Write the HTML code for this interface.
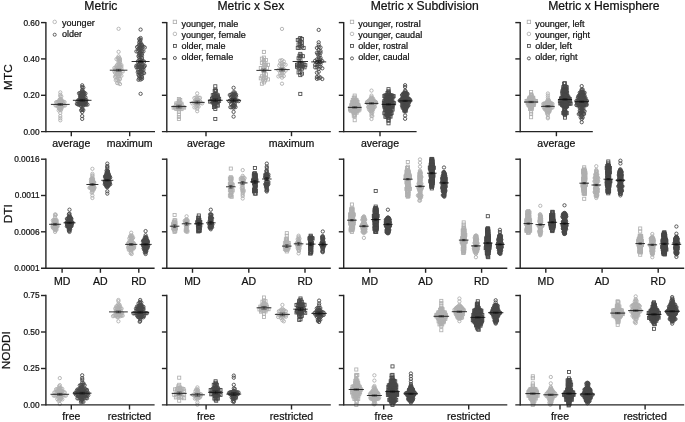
<!DOCTYPE html>
<html lang="en"><head><meta charset="utf-8"><title>Metric figure</title>
<style>html,body{margin:0;padding:0;background:#fff}svg{display:block;will-change:transform;transform:translateZ(0);filter:grayscale(1)}polyline{fill:none;stroke:none}.cL{marker-start:url(#cL);marker-mid:url(#cL);marker-end:url(#cL)}.cD{marker-start:url(#cD);marker-mid:url(#cD);marker-end:url(#cD)}.sL{marker-start:url(#sL);marker-mid:url(#sL);marker-end:url(#sL)}.sD{marker-start:url(#sD);marker-mid:url(#sD);marker-end:url(#sD)}</style></head>
<body>
<svg width="685" height="422" viewBox="0 0 685 422" font-family='"Liberation Sans", Arial, Helvetica, sans-serif'>
<rect width="685" height="422" fill="#fff"/>
<defs>
<marker id="cL" markerUnits="userSpaceOnUse" markerWidth="6" markerHeight="6" refX="3" refY="3" viewBox="0 0 6 6"><circle cx="3" cy="3" r="1.65" fill="none" stroke="#b0b0b0" stroke-width="0.9"/></marker>
<marker id="cD" markerUnits="userSpaceOnUse" markerWidth="6" markerHeight="6" refX="3" refY="3" viewBox="0 0 6 6"><circle cx="3" cy="3" r="1.65" fill="none" stroke="#484848" stroke-width="0.9"/></marker>
<marker id="sL" markerUnits="userSpaceOnUse" markerWidth="6" markerHeight="6" refX="3" refY="3" viewBox="0 0 6 6"><rect x="1.45" y="1.45" width="3.1" height="3.1" fill="none" stroke="#b0b0b0" stroke-width="0.85"/></marker>
<marker id="sD" markerUnits="userSpaceOnUse" markerWidth="6" markerHeight="6" refX="3" refY="3" viewBox="0 0 6 6"><rect x="1.45" y="1.45" width="3.1" height="3.1" fill="none" stroke="#484848" stroke-width="0.85"/></marker>
</defs>
<polyline class="cL" points="60.3,92.4 60.3,94.7 60.3,96.3 61.3,96.4 60.3,99.1 61.3,99.4 59.3,99.9 60.3,100.1 61.3,100.5 60.3,101.2 59.3,101.4 62.4,101.4 61.3,101.7 58.2,101.9 63.4,101.9 57.2,102 64.5,102 56.1,102.3 60.3,102.4 59.3,102.5 61.9,102.7 57.7,102.9 62.9,102.9 60.8,103.3 59.8,103.9 58.7,104.2 60.8,104.6 61.9,104.6 57.7,104.8 59.8,105 62.9,105.1 58.7,105.2 56.6,105.3 64,105.3 65,105.5 55.6,105.5 60.8,105.8 61.9,105.9 57.7,106 59.8,106.1 58.7,106.6 60.8,106.9 59.8,107.2 61.9,107.3 58.7,107.7 60.3,108.5 59.3,108.6 61.3,108.9 59.8,109.5 60.8,110.3 58.7,110.4 60.3,113 60.3,116 60.3,118.2 60.3,120.3"/>
<polyline class="cD" points="82.2,85.3 82.2,87 83.3,87.6 82.2,89.7 82.2,91 83.3,91.7 82.2,92.1 81.1,92.7 83.3,92.8 84.3,93 80.1,93.1 82.2,93.2 79,93.3 85.4,93.5 83.3,94 82.2,94.5 81.1,94.5 84.3,94.6 83.3,95.3 80.1,95.4 82.2,95.8 81.1,96 83.3,96.4 84.3,96.6 80.1,96.7 82.2,97.1 81.1,97.2 85.4,97.3 82.2,98.2 83.3,98.2 81.1,98.5 80.1,98.9 82.2,99.3 83.3,99.4 81.1,99.8 84.3,99.9 79.6,99.9 85.4,99.9 78.5,100 86.4,100.1 82.7,100.4 81.7,100.7 80.6,100.7 83.8,100.8 84.8,100.9 79.6,101.1 78.5,101.2 85.9,101.3 77.4,101.4 82.7,101.6 81.7,101.9 80.6,102 83.8,102.2 84.8,102.2 82.2,103 83.3,103.2 81.1,103.3 80.1,103.3 84.3,103.5 79,103.5 85.4,103.7 86.4,103.7 78,103.7 76.9,103.9 82.2,104.1 83.3,104.3 80.6,104.4 79.6,104.5 84.3,104.6 87.5,104.6 85.9,104.7 78.5,104.8 82.2,105.3 83.3,105.8 81.1,106.1 82.2,108.8 82.2,109.9 83.3,110.1 81.1,110.3 82.2,112 82.2,116.1 82.2,118.9"/>
<polyline class="cL" points="118.6,56.4 119.3,57.8 117.9,57.9 120,59.1 116.5,59.1 118.6,59.3 118.6,60.7 120,61 118.6,62.2 120,62.5 118.6,64 120,64.6 117.2,64.8 121.4,65.1 118.6,65.8 120,66 116.5,66 121.4,66.9 118.6,67.3 117.2,67.4 120,67.5 115.8,67.6 114.4,68 117.9,68.7 121.4,68.7 119.3,68.9 116.5,69.2 115.1,69.4 118.6,70.5 117.2,70.8 120,71 115.8,71.4 121.4,71.5 114.4,71.5 122.8,71.5 118.6,72.2 120,72.7 117.2,72.7 115.1,72.8 118.6,74.4 117.2,74.4 120,74.6 115.8,75.4 117.9,75.7 121.4,75.8 119.3,76.4 116.5,76.8 115.1,76.9 118.6,79 120,79.1 117.2,80.1 115.8,80.2 118.6,80.8 118.6,83.1 117.2,83.1 120,84.1 118.6,28.8 118.6,51.8"/>
<polyline class="cD" points="140.6,38 139.2,39.1 140.6,39.6 139.9,40.9 140.6,42.5 139.2,42.5 140.6,44 139.2,44.8 142,44.9 140.6,45.6 138.5,46.2 142,46.3 143.4,46.7 139.9,46.9 137.1,47.1 144.8,47.5 141.3,47.6 139.9,48.3 138.5,48.5 140.6,49.6 139.2,50.1 140.6,51 142,51.1 137.8,51.1 143.4,51.3 136.4,51.4 140.6,52.5 139.2,53.2 142,53.6 140.6,54.1 139.2,54.9 142,55.3 140.6,55.5 138.5,56.2 140.6,57.2 139.2,57.5 142,57.9 140.6,59.3 139.2,60.3 141.3,60.7 142.7,60.9 137.8,61.4 144.1,61.6 140.6,62.9 139.2,63.8 140.6,64.4 142,64.7 137.8,65 139.2,65.2 143.4,65.6 144.8,65.7 136.4,65.7 140.6,65.9 139.2,66.9 142,67 137.8,67 144.1,67 136.4,67.2 140.6,67.3 142.7,68.3 140.6,69 139.2,69 137.8,69.4 142,69.5 143.4,69.8 140.6,70.8 142,71.6 139.2,72 137.8,72.2 140.6,72.3 142.7,73 144.1,73.1 139.2,73.4 140.6,74.2 142,74.4 138.5,74.8 140.6,76.1 139.2,76.1 142,77.1 140.6,78.1 139.2,78.5 142,78.7 140.6,79.6 138.5,79.8 140.6,29.6 140.6,93.8"/>
<polyline class="sL" points="178.9,99.1 180.2,100 178.9,101.1 178.9,102.6 180.2,102.8 177.6,103.4 176.3,103.5 181.5,103.8 178.9,104.4 177.6,104.8 180.2,105 176.3,105 181.5,105.2 178.9,106.6 177.6,106.6 180.2,106.7 176.3,106.8 181.5,107 182.8,107.1 175,107.3 173.7,107.6 184.1,107.6 178.9,107.9 177.6,108.1 180.2,108.4 176.3,108.9 181.5,109.1 178.9,109.5 178.9,112 178.9,114.5 178.9,117 178.9,119"/>
<polyline class="cL" points="197.2,93.4 197.2,97.3 195.8,97.5 198.6,97.7 200,97.8 194.4,98.1 197.2,99.2 198.6,100.3 196.5,100.4 195.1,100.6 200,100.9 197.9,101.5 196.5,102.1 199.3,102.4 195.1,102.6 193.7,102.6 200.7,102.8 197.9,103.2 192.3,103.4 202.1,103.4 196.5,104.2 197.9,105.1 197.2,106.4 198.6,106.6 195.8,106.9 194.4,107.4 197.2,108.7 197.2,111.2"/>
<polyline class="sD" points="215.3,86.3 215.3,89.8 215.9,90.9 214.7,91 215.3,94.4 216.6,94.6 214,95 212.8,95.2 217.8,95.4 215.3,96 216.6,96.1 214,96.7 217.8,96.9 215.3,97.4 216.6,97.7 214.7,98.6 213.4,98.6 217.8,98.6 212.1,98.8 219.1,98.8 215.3,99.8 214,100.4 216.6,100.6 217.8,100.6 212.8,100.7 219.1,100.9 211.5,100.9 215.3,101.4 210.2,101.6 214,101.8 216.6,102.1 217.8,102.1 212.8,102.5 215.3,103.1 214,103.2 215.3,104.3 214,104.8 216.6,105.2 217.8,105.6 215.3,106.5 214,107.1 215.3,109 215.3,119"/>
<polyline class="cD" points="233.6,87.8 233.6,92.2 234.9,92.6 233.6,93.9 234.9,94.1 232.3,94.2 231.1,94.6 236.1,94.7 229.8,95 233.6,95.2 234.9,95.9 232.3,96 236.1,96.2 233.6,96.8 231.1,96.9 233.6,98.1 232.3,98.4 234.9,98.7 233.6,99.5 231.7,99.6 234.9,100.2 236.1,100.4 230.4,100.5 237.4,100.5 233,100.6 231.7,101 229.2,101.1 238.7,101.1 234.2,101.5 233.6,102.9 232.3,103.2 234.9,103.3 231.1,104.1 233.6,105.2 234.9,105.4 233,106.4 234.2,106.6 235.5,107.1 231.7,107.2 230.4,107.2 233.6,107.8 233.6,111.9 233.6,116.6"/>
<polyline class="sL" points="263.9,57.6 261.9,58.7 263.9,59.9 265.9,60 263.9,62.1 261.9,63 263.9,64.5 265.9,64.6 268,64.8 264.9,66.5 262.9,67.9 260.8,68 267,68.1 263.9,70.7 263.9,73.5 265.9,74.4 263.9,75.5 261.9,76.3 263.9,77.7 265.9,78 260.8,78.3 268,79.4 262.9,79.5 264.9,80.5 263.9,82.4 261.9,83.7 263.9,51.9"/>
<polyline class="cL" points="282,60.2 280.2,60.6 283.8,61.4 282,63.1 280.2,63.8 283.8,64.2 285.6,64.7 282,65.2 279.3,65.6 282,67 282,69.1 283.8,69.1 280.2,69.5 278.4,70 285.6,70.6 282.9,70.7 281.1,71.1 283.8,72.4 282,72.8 280.2,73 282,75.4 280.2,75.6 283.8,76 278.4,76.4 282,77.6 282,83.7 282,28.9"/>
<polyline class="sD" points="300.3,38 302,39 299.5,39.6 297.8,40 300.3,41.8 302,42.8 300.3,44 298.6,44.4 300.3,46.3 302,46.5 299.5,47.8 297.8,47.9 303.6,47.9 300.3,53.9 301.1,55.6 299.5,55.8 302.8,56.2 300.3,57.5 298.6,58.3 300.3,63 302,64.1 298.6,64.2 303.6,64.4 300.3,64.7 297,64.8 305.3,65.2 298.6,66.1 301.1,66.3 302.8,66.4 297,66.7 304.5,67.3 300.3,67.7 298.6,68.2 302,68.6 300.3,72.3 298.6,72.4 302,73.6 300.3,75.1 300.3,93.9"/>
<polyline class="cD" points="318.7,42.3 318.7,44.7 318.7,47 320.5,47.5 316.9,47.9 318.7,50 320.5,51 318.7,52.8 316.9,52.8 320.5,52.9 317.8,54.4 319.6,55.1 318.7,57.1 320.5,57.9 318.7,59 316.9,59.5 320.5,59.7 315.1,60.8 318.7,61.1 322.3,61.1 320.5,61.9 316.9,62.1 318.7,64 320.5,64.2 316.9,64.7 315.1,64.8 318.7,66.5 320.5,66.8 316.9,67.3 315.1,67.4 322.3,68.3 318.7,68.8 318.7,71.8 316.9,72.7 318.7,76.3 316.9,77 320.5,77.6 318.7,78.3 316.9,78.8 322.3,79 318.7,29.9"/>
<polyline class="sL" points="354.7,95.6 354.7,97.5 353.8,97.8 354.7,99.6 355.6,99.7 353.8,99.9 352.8,100.1 356.6,100.3 354.7,100.6 355.6,100.7 353.8,101.1 356.6,101.4 355.2,101.5 352.8,101.8 354.2,102 357.5,102.1 356.1,102.2 351.9,102.3 355.2,102.7 354.2,103.1 356.1,103.4 355.2,103.6 353.3,103.9 357,104 354.2,104.1 352.4,104.3 355.2,104.6 356.1,104.7 353.3,104.9 357.5,104.9 351.4,105 358.4,105 354.2,105.2 352.4,105.3 355.2,105.6 356.1,105.7 357,105.8 353.3,105.8 358,106 351.4,106.1 354.2,106.2 352.4,106.3 358.9,106.4 355.2,106.6 356.1,106.7 353.3,106.8 354.7,107.5 355.6,107.6 353.8,107.6 352.8,107.7 356.6,107.8 351.9,107.8 357.5,107.8 358.4,107.8 350.9,108 350,108.2 359.4,108.3 354.7,108.6 353.8,108.7 355.6,108.8 356.6,108.8 352.8,109 357.5,109 351.9,109.1 350.9,109.2 358.4,109.2 359.4,109.5 350,109.5 354.7,109.8 353.8,110 355.6,110 356.6,110.1 352.8,110.3 351.9,110.3 357.5,110.4 358.4,110.5 350.9,110.7 354.7,110.9 353.8,110.9 355.6,111 356.6,111.3 352.8,111.5 354.7,111.9 355.6,112 353.8,112.2 356.6,112.7 354.7,113.2 353.8,113.4 354.7,115 353.8,115.7 354.7,116.3 354.7,120.2"/>
<polyline class="cL" points="371.5,95.6 371.5,97 371.5,98.1 370.7,98.3 372.3,98.5 373.1,98.6 371.5,99.3 370.7,99.5 372.3,100 373.1,100.1 371.5,100.2 370.3,100.3 369.4,100.4 374,100.7 368.6,100.7 371.9,101 371.1,101.1 370.3,101.3 372.7,101.4 369.4,101.5 373.6,101.6 368.6,101.6 374.4,101.6 375.2,101.6 367.8,101.7 371.5,101.9 370.7,102 367,102 376,102.1 372.3,102.2 369.9,102.3 373.1,102.3 369,102.4 374,102.5 374.8,102.5 368.2,102.6 371.5,103 370.7,103 372.3,103.1 369.9,103.1 367.4,103.1 373.1,103.2 369,103.2 374.4,103.3 375.2,103.3 376,103.3 368.2,103.6 371.1,103.8 371.9,103.9 372.7,104 370.3,104 373.6,104 369.4,104.2 368.6,104.5 374.4,104.6 371.5,104.9 370.7,104.9 372.3,105.1 373.1,105.4 369.9,105.5 371.5,106.2 372.3,106.2 370.7,106.5 373.1,106.5 369.9,106.5 374,106.7 369,106.9 374.8,106.9 371.9,107 368.2,107.2 371.1,107.3 372.7,107.7 371.9,107.9 371.1,108.3 370.3,108.4 372.7,108.6 371.9,109 371.1,109.2 369.9,109.2 373.1,109.3 369,109.5 371.9,109.8 371.1,110.3 372.7,110.4 371.9,110.9 370.3,111 371.1,111.2 371.5,112.6 372.3,112.6 371.5,114.3 371.5,116 372.3,116 371.5,90.6 371.5,119"/>
<polyline class="sD" points="388.5,89.2 388.5,91.3 388.5,92.5 387.5,93.1 389,93.4 388.5,94.4 389.5,95 387.5,95.2 390.5,95.3 386.5,95.3 385.4,95.4 391.6,95.4 388.5,95.5 389.5,96 384.4,96.1 392.6,96.1 393.6,96.2 387.5,96.3 386.5,96.5 388.5,96.8 390.5,96.8 391.6,96.9 385.4,97 389.5,97.4 387.5,97.4 392.6,97.4 388.5,97.8 390.5,97.9 387,98.4 389.5,98.6 386,98.7 388.5,99.2 387.5,99.4 390,99.5 386.5,99.6 391,100 389,100.1 385.4,100.2 392.1,100.3 388,100.4 387,100.6 390,100.6 384.4,101 391,101 389,101.2 386,101.2 388,101.4 390,101.9 387,102 391,102.1 388.5,102.3 386,102.5 392.1,102.6 384.9,102.6 393.1,102.6 383.9,102.7 389.5,102.9 387.5,103.1 390.5,103.2 394.1,103.3 388.5,103.5 386.5,103.6 385.4,103.6 391.6,103.7 389.5,104 387.5,104.1 390.5,104.4 388.5,104.6 386.5,104.6 385.4,104.8 391.6,105 389.5,105 384.4,105.1 392.6,105.1 387.5,105.3 390.5,105.5 388.5,105.8 386.5,106 389.5,106.1 385.4,106.2 391.6,106.2 392.6,106.3 387.5,106.4 384.4,106.6 390.5,106.8 388.5,107.1 386.5,107.1 389.5,107.3 391.6,107.3 387.5,107.6 385.4,107.6 388.5,108.1 389.5,108.5 387,108.5 390.5,108.6 386,108.8 391.6,109 388.5,109.3 384.9,109.4 387.5,109.5 392.6,109.5 389.5,109.7 388.5,110.7 387.5,111 389.5,111.2 390.5,111.2 386.5,111.3 388.5,112.2 387.5,112.5 389.5,112.6 390.5,112.8 386.5,112.9 385.4,113 391.6,113.1 384.4,113.2 388.5,113.2 387.5,113.5 389.5,114 390.5,114.1 388.5,114.2 387.5,114.9 386.5,115 388.5,115.8 387.5,116.1 389.5,116.2 390.5,116.6 386.5,116.7 385.4,116.7 388.5,117.7 388.5,119.6 388.5,120.7 388.5,123.3"/>
<polyline class="cD" points="405.1,90.6 405.5,91.3 405.1,92.5 405.9,93.2 404.7,93.2 404,93.2 406.6,93.3 403.2,93.5 407.4,93.7 405.1,93.9 405.9,94.1 404.3,94.4 403.6,94.4 406.6,94.5 407.4,94.6 402.8,94.6 405.1,94.7 405.9,95 402,95.1 404.3,95.3 405.1,95.5 403.6,95.6 405.9,95.9 404.3,96.1 405.1,96.4 405.9,96.7 403.6,96.7 404.3,97 406.6,97 407.4,97.1 402.8,97.1 405.1,97.6 405.9,97.7 404.3,97.9 406.6,97.9 403.6,98.2 402.8,98.3 405.1,98.5 405.9,98.6 404.3,98.6 406.6,98.9 407.4,98.9 408.2,98.9 402,98.9 408.9,98.9 403.6,99.2 402.8,99.2 405.5,99.2 401.3,99.3 409.7,99.3 405.1,99.9 404.3,100 405.9,100.1 403.6,100.1 406.6,100.1 407.4,100.2 402.8,100.2 402,100.2 408.2,100.3 408.9,100.3 401.3,100.3 409.7,100.4 400.5,100.4 410.5,100.6 399.7,100.6 405.1,100.8 404.3,100.9 405.9,101 406.6,101 403.6,101.1 407.4,101.1 402.8,101.1 408.2,101.3 402,101.3 401.3,101.4 408.9,101.5 405.1,101.6 404.3,101.9 405.9,102.2 403.6,102.4 406.6,102.4 405.1,102.5 407.4,102.5 402.8,102.6 402,102.6 404.3,102.8 408.2,102.8 408.9,102.8 405.9,103 405.1,103.3 404.3,103.6 405.9,103.8 406.6,104 405.1,104.3 404.3,104.8 405.5,105 406.2,105.2 403.6,105.3 407,105.3 402.8,105.3 407.8,105.3 402,105.4 408.5,105.4 404.7,105.6 405.5,105.9 404,106 406.2,106.1 407,106.1 403.2,106.1 407.8,106.1 404.7,106.5 405.5,106.7 402.4,106.7 404,106.9 406.2,106.9 405.1,107.5 405.9,107.8 404.3,107.8 403.6,108.1 406.6,108.2 402.8,108.2 405.1,108.8 405.9,108.8 404.3,108.9 405.5,109.5 404.7,109.7 405.5,110.3 404.3,110.4 405.1,111 404.3,111.4 405.9,111.4 405.1,115.5 405.1,85.2 405.1,87 405.1,118.8"/>
<polyline class="sL" points="531.1,92 531.1,94.3 531.1,95.3 531.8,95.5 531.1,96.3 531.1,97.2 530.4,97.3 531.8,97.5 532.5,97.7 529.7,97.7 533.2,97.8 531.1,98 531.8,98.4 530.4,98.4 532.5,98.5 529.7,98.5 529,98.6 533.2,98.6 531.1,98.9 530.4,99.1 531.8,99.2 531.1,99.7 530.1,99.8 532.5,99.8 531.8,100 529.4,100.2 533.2,100.2 531.1,100.4 530.4,100.5 532.1,100.6 528.7,100.7 533.9,100.7 528,100.8 529.7,100.9 532.8,100.9 534.6,100.9 527.3,100.9 535.3,101 526.6,101 531.4,101 536,101.1 530.8,101.2 532.1,101.4 530.1,101.5 531.1,101.8 532.8,102 530.4,102.2 531.8,102.2 529.7,102.4 529,102.4 533.5,102.4 531.1,102.6 532.5,102.6 528.3,102.7 534.2,102.8 531.8,103 530.4,103 529.4,103 533.2,103.1 527.6,103.1 531.1,103.8 530.4,103.9 531.8,104.2 532.5,104.2 529.7,104.3 529,104.4 531.1,104.6 530.4,104.7 533.2,104.7 528.3,104.7 533.9,104.8 531.8,104.9 532.5,105.1 531.1,105.3 530.4,105.4 529.7,105.5 529,105.5 531.8,105.7 531.1,106.1 530.4,106.2 531.4,106.7 532.1,106.8 530.8,106.9 530.1,107.2 531.4,107.4 530.8,107.7 531.4,108.2 530.8,108.4 531.8,108.8 530.1,108.9 531.1,112.4 531.1,114 531.1,117.2"/>
<polyline class="cL" points="547.9,95.5 547.9,97.5 547.9,99.4 548.7,99.9 547.9,100.8 548.7,101.2 547.1,101.4 549.4,101.5 547.9,102.1 547.1,102.4 548.7,102.5 546.4,102.8 547.9,102.9 549.4,103 550.2,103 547.1,103.3 548.7,103.4 545.6,103.4 544.8,103.4 551,103.5 551.7,103.5 546.4,103.6 547.9,103.7 549.8,103.7 544.1,103.8 543.3,103.8 552.5,103.9 549,104 547.1,104.1 545.6,104.2 550.6,104.3 544.8,104.3 548.3,104.4 546.4,104.4 549.8,104.5 551.3,104.6 547.5,104.8 548.3,105.2 547.1,105.5 549,105.5 546.4,105.6 549.8,105.6 545.6,105.7 547.9,106.2 548.7,106.2 547.1,106.3 546.4,106.4 549.4,106.7 547.9,107 548.7,107 550.2,107 547.1,107.1 546,107.1 545.2,107.2 551,107.3 544.5,107.3 551.7,107.4 549.4,107.5 543.7,107.5 552.5,107.6 548.3,107.7 547.5,107.9 546.8,108 546,108 549,108.3 549.8,108.4 545.2,108.4 547.9,108.6 547.1,108.7 546.4,108.7 548.7,109.1 549.4,109.2 545.6,109.2 550.2,109.3 544.8,109.3 547.9,110.2 548.7,110.6 547.1,110.7 549.4,110.8 547.9,111 546.4,111.1 547.1,111.5 548.7,111.6 549.4,111.7 547.9,111.8 547.1,112.3 548.7,112.4 547.9,113.5 547.1,113.6 547.9,115.1 547.9,117.4 547.9,118.3 547.9,93.5"/>
<polyline class="sD" points="565,83.2 564.1,83.6 565,86.6 564.1,86.8 565.9,86.8 563.3,87.2 566.7,87.3 565,87.5 565,88.9 565.9,88.9 564.1,89.4 563.3,89.4 565,89.9 564.1,90.4 565.9,90.6 566.7,90.7 563.3,90.8 565,90.9 564.1,91.3 562.4,91.4 565.9,91.5 565,91.8 563.7,92.2 564.6,92.6 565.4,92.6 566.3,92.7 563.3,93 567.1,93.2 562.4,93.3 565,93.6 564.1,93.8 565,94.5 564.1,94.8 565.9,94.9 563.3,95.2 565,95.6 565.9,95.8 564.1,95.9 566.7,95.9 563.3,96.2 567.6,96.4 565,96.9 565.9,97 564.1,97.2 563.3,97.2 566.7,97.3 562.4,97.4 567.6,97.6 568.4,97.6 565.4,97.7 561.6,97.9 564.6,98 563.7,98 566.3,98 562.9,98.4 567.1,98.4 568,98.4 568.9,98.6 565.4,98.6 562,98.7 561.1,98.7 564.1,98.8 566.3,99 569.7,99.1 563.3,99.2 567.6,99.2 565,99.6 564.1,99.8 565.9,99.9 566.7,100.3 563.3,100.3 567.6,100.4 562.4,100.4 565,100.5 568.4,100.5 561.6,100.6 564.1,100.7 565.9,100.9 569.3,101 560.7,101 559.9,101.1 570.1,101.1 565,101.4 565.9,102 564.6,102.2 565.4,102.8 566.3,102.9 563.7,102.9 567.1,102.9 562.9,103 564.6,103.1 568,103.3 562,103.3 568.9,103.4 561.1,103.4 560.3,103.4 569.7,103.6 570.6,103.6 565.4,103.7 564.6,104 566.3,104.1 563.7,104.1 562.9,104.4 565.4,104.6 567.1,104.7 562,104.8 564.6,105 566.3,105.1 563.7,105.3 562.9,105.4 565.4,105.6 564.6,105.9 566.3,106 563.7,106.2 567.1,106.2 565,107.1 565.9,107.2 565,108.3 564.1,108.9 565,109.8 565,110.7 565,111.8 564.1,112.3 565.9,112.4 565,112.9 563.3,112.9 566.7,113.1 564.1,113.3 565.4,113.7 564.6,114.2 565,115.2 565,117.6"/>
<polyline class="cD" points="581.7,86.1 581.7,89.4 582.7,89.5 581.7,90.4 581.7,91.7 582.7,91.8 580.7,92.1 583.6,92.4 579.8,92.7 584.6,92.7 581.7,92.8 582.7,93.2 580.7,93.3 583.6,93.6 581.7,93.8 582.7,94.4 581.7,94.9 580.7,94.9 583.6,95 579.8,95.1 582.7,95.6 584.6,95.6 578.8,95.7 581.7,95.9 580.7,96 583.6,96.2 579.8,96.3 578.3,96.6 582.7,96.6 581.7,96.9 580.7,97 583.6,97.2 579.8,97.3 578.8,97.4 584.6,97.6 582.7,97.7 581.7,98 580.7,98 577.8,98.1 585.6,98.2 583.6,98.2 579.8,98.5 584.6,98.7 582.7,98.8 581.2,98.9 583.6,99.2 580.2,99.3 579.3,99.5 585.1,99.6 581.7,99.8 582.7,100 584.1,100.1 580.7,100.2 578.3,100.3 579.8,100.4 581.7,100.8 585.1,100.8 583.2,100.9 586.1,100.9 577.3,100.9 587,100.9 576.4,101 578.8,101.1 580.7,101.2 584.1,101.3 579.8,101.6 582.2,101.8 583.2,101.9 585.1,101.9 577.8,101.9 586.1,102 581.2,102 580.2,102.5 579.3,102.6 584.1,102.6 576.9,102.7 581.7,102.9 582.7,103 578.3,103.2 580.7,103.4 579.8,103.5 583.6,103.5 584.6,103.6 585.6,103.6 577.3,103.7 581.7,103.9 582.7,104 578.8,104.1 586.5,104.1 580.7,104.6 583.6,104.6 579.8,104.7 584.6,104.8 585.6,104.8 582.2,104.9 578.3,105 577.3,105.1 586.5,105.1 576.4,105.1 581.2,105.4 580.2,105.7 582.7,105.8 583.6,105.8 581.7,106.5 579.3,106.5 581.7,107.4 582.7,107.6 580.7,107.7 583.6,107.7 579.8,108.1 581.7,108.9 581.7,109.9 580.7,110.4 582.7,110.4 583.6,110.7 579.8,110.8 581.7,111 584.6,111.3 581.7,112.4 580.7,112.5 582.7,112.7 581.7,113.4 580.7,113.5 583.2,113.6 579.8,113.6 584.1,114 578.8,114.1 581.7,115.5 581.7,117 580.7,117.4 582.7,117.5 581.7,119 581.7,122.2"/>
<polyline class="cL" points="55.1,214.4 55.8,214.8 55.1,215.5 55.1,217.2 55.1,219.8 54.4,219.9 55.8,220 53.7,220 56.5,220 52.9,220.4 55.1,220.8 55.8,220.8 54.4,221 56.5,221.1 55.1,221.5 55.8,221.6 54.4,221.7 53.7,221.8 56.5,222.2 55.1,222.2 55.8,222.4 54.4,222.6 55.1,223 55.8,223.6 54.4,223.6 53.7,223.7 55.1,223.8 56.5,223.8 52.9,224 57.3,224.1 55.8,224.3 54.4,224.4 55.1,224.6 56.5,224.7 53.7,224.7 52.9,224.9 57.3,225 55.5,225.2 54.7,225.8 55.5,226.1 54,226.2 56.2,226.2 56.9,226.2 53.3,226.3 52.6,226.4 57.6,226.4 55.1,226.9 54.4,227.4 55.8,227.4 53.7,227.6 56.5,227.6 55.1,227.8 52.9,227.8 55.1,228.8 55.8,229.4 54.4,229.4 55.1,229.6 56.5,229.7 55.5,230.3 55.1,231.9"/>
<polyline class="cD" points="69.5,213.7 68.9,214.2 69.5,215.5 69.5,216.6 70.1,216.7 68.9,216.8 69.5,217.5 68.9,217.6 70.1,217.8 70.8,218 69.5,218.3 68.9,218.4 68.2,218.5 70.1,218.6 70.8,218.7 67.6,218.7 71.4,218.8 66.9,218.9 69.5,219.1 68.9,219.3 70.1,219.4 69.5,219.8 68.9,220.3 70.1,220.3 68.2,220.3 69.5,220.4 70.8,220.6 69.2,221 69.8,221.2 70.5,221.4 68.5,221.5 71.1,221.7 69.5,221.8 70.1,222 67.9,222 68.9,222.1 71.7,222.1 67.3,222.2 70.8,222.3 72.4,222.3 66.6,222.4 69.5,222.6 70.1,222.6 68.5,222.6 67.9,222.7 70.8,223 69.5,223.3 68.9,223.4 70.1,223.5 68.2,223.6 70.8,223.6 71.4,223.7 67.6,223.7 72.1,223.7 66.9,223.9 69.5,224.3 70.1,224.3 68.9,224.4 68.2,224.5 70.8,224.6 69.5,224.9 68.9,225.2 70.1,225.2 68.2,225.3 70.8,225.3 67.6,225.5 71.4,225.5 69.5,225.7 68.9,225.9 70.1,225.9 70.8,225.9 68.2,226.1 67.6,226.1 71.4,226.2 66.9,226.3 69.5,226.5 70.5,226.5 68.9,226.7 68.2,226.9 69.5,227.4 68.9,227.5 70.1,227.9 69.5,228.3 68.9,228.3 69.5,229.2 70.1,229.3 68.9,229.6 69.5,230.7 68.9,230.8 69.5,231.9 69.5,209.7"/>
<polyline class="cL" points="92.4,173.8 92.4,175.3 92.4,176.3 92.4,178.1 91.7,178.4 92.4,178.9 93.1,179 91.7,179.4 91,179.5 92.4,180.2 91.7,180.6 92.4,181 93.1,181.2 91.7,181.3 92.4,181.7 93.5,181.8 91,181.9 91.7,182.2 94.2,182.3 92.4,182.6 93.1,182.6 91.7,183 93.8,183.1 92.8,183.3 92,183.8 92.8,184.1 91.3,184.1 93.5,184.2 90.6,184.4 94.2,184.4 92.4,184.8 91.7,184.9 92.4,185.6 91.7,185.7 93.1,185.9 93.8,185.9 92.4,186.6 93.1,186.7 91.7,186.9 91,187.2 93.8,187.2 92.4,187.4 93.1,187.4 90.2,187.6 94.6,187.6 91.7,187.8 89.5,187.8 91,187.9 92.4,188.2 93.1,188.3 93.8,188.4 92.4,188.9 91.7,189.3 93.1,189.3 93.8,189.6 92.4,189.8 92.4,190.8 92.4,192 91.7,192.6 92.4,195.5 92.4,168.8 92.4,198"/>
<polyline class="cD" points="107.3,166 107.3,167.1 107.3,168.4 107.3,170.6 106.6,170.7 108,171.1 107.3,171.7 108,172.2 107.3,172.5 106.6,172.9 107.3,173.3 108,173.4 106.6,173.7 108.7,173.9 107.3,174.2 108,174.5 106.9,174.9 106.2,174.9 108.7,175 107.3,175.6 106.6,175.8 108,175.9 108.7,175.9 105.9,176.1 105.1,176.2 109.5,176.2 107.3,176.7 108,176.8 106.6,177.1 105.9,177.1 108.7,177.1 109.5,177.2 105.1,177.3 107.7,177.4 110.2,177.5 106.9,178 107.7,178.1 106.2,178.3 108.4,178.4 109.1,178.4 107.3,178.8 106.6,179 108,179.1 105.9,179.4 107.3,179.9 106.6,180.3 107.3,180.7 108,180.8 106.2,181 108.7,181.1 105.5,181.3 109.5,181.3 104.8,181.3 107.3,181.7 108,181.8 106.6,182 108.7,182.1 105.9,182.2 105.1,182.2 109.5,182.3 107.3,182.6 108,182.7 106.6,182.9 105.9,182.9 108.7,183.1 109.5,183.1 107.3,183.4 108,183.4 106.2,183.6 108.7,183.9 105.5,183.9 109.5,183.9 106.9,184 107.7,184.1 104.8,184.2 110.2,184.3 108.4,184.6 107.3,184.8 106.6,184.8 105.9,185.1 108,185.3 108.7,185.3 107.3,185.6 106.6,186 108,186.2 107.3,186.5 106.6,186.8 107.3,187.3 107.3,191.3 107.3,193.6 107.3,163.6"/>
<polyline class="cL" points="131.2,232.7 131.2,235.5 132.2,235.9 130.2,236.1 131.2,237 132.2,237.5 130.2,237.6 133.1,237.8 131.2,238.4 129.3,238.4 132.2,238.7 131.2,239.7 131.2,240.8 130.2,241.5 132.2,241.5 129.3,241.5 131.2,241.8 130.2,242.5 131.7,242.6 132.6,242.7 129.3,242.9 133.6,243.1 128.3,243.1 131.2,243.5 132.2,243.6 130.2,243.9 129.3,243.9 133.1,243.9 134.1,244 128.3,244.1 131.2,244.5 132.2,244.7 130.2,244.9 129.3,245.1 133.1,245.2 134.1,245.3 131.2,245.7 132.2,245.9 130.2,246.3 129.3,246.3 133.1,246.5 128.3,246.6 134.1,246.6 131.2,247.1 132.2,247.2 130.2,247.3 129.3,247.4 133.1,247.5 128.3,247.8 134.1,247.9 131.2,248.2 131.7,249.1 130.7,249.5 129.8,249.6 132.6,249.6 128.8,249.9 131.2,250.3 131.2,252.4 130.7,253.3 131.7,254"/>
<polyline class="cD" points="145.6,235.3 145.6,237.2 146.3,237.3 144.9,237.6 145.6,237.8 146.3,238.1 145.6,239 144.9,239.6 145.9,239.6 146.6,239.7 144.3,239.7 147.2,240 143.6,240.1 145.6,240.5 146.3,240.6 144.9,240.6 146.9,240.7 144.3,240.9 143.6,240.9 147.6,241.1 145.9,241.1 145.3,241.2 143,241.3 146.6,241.3 144.6,241.6 144,241.6 147.2,241.7 147.9,241.8 145.6,241.8 146.3,242 144.9,242.2 146.9,242.4 144.3,242.4 145.6,242.7 146.3,242.7 147.6,242.7 144.9,242.9 144,243 145.9,243.2 145.6,243.8 144.9,243.9 146.3,244 146.9,244.1 144.3,244.3 143.6,244.3 147.6,244.4 143,244.5 145.6,244.5 146.3,244.9 144.9,245.1 144.3,245.1 146.9,245.1 145.6,245.2 143.6,245.2 147.6,245.4 148.2,245.5 146.3,245.6 143,245.6 144.6,245.6 145.6,246.2 146.3,246.2 144.9,246.2 144.3,246.3 146.9,246.5 147.6,246.5 145.6,246.9 144.9,247.1 146.3,247.1 144.3,247.4 146.9,247.4 145.6,247.6 147.6,247.7 144.9,247.9 146.3,248.1 144.3,248.1 145.6,248.2 146.9,248.3 143.6,248.4 144.9,248.6 145.6,249.4 146.3,249.7 145.6,250 144.9,250.1 144.3,250.1 145.6,250.8 146.3,251.2 145.6,251.6 145.6,252.4 144.9,252.4 145.6,254 145.6,231.1"/>
<polyline class="sL" points="174.6,220.2 175.3,220.5 174.6,221.7 173.9,221.8 174.6,222.8 175.3,222.9 173.9,223.2 174.6,223.7 175.3,223.8 173.2,223.8 174.6,224.7 175.3,224.8 173.9,224.9 173.2,225.1 174.6,225.5 174.6,226.5 173.9,226.7 174.6,227.7 173.9,227.8 175.3,228.1 173.2,228.2 176,228.2 174.6,228.3 173.9,228.5 174.6,229.2 175.3,229.2 173.9,229.4 174.6,230.6 175.3,230.8 174.6,231.9 174.6,215"/>
<polyline class="cL" points="186.6,216.3 186.6,219.3 186.2,220 187,220.3 185.5,220.4 187.7,220.5 186.2,220.8 184.7,220.8 186.6,221.6 187.4,222.1 185.8,222.2 186.6,222.5 185.1,222.5 187.4,223 186.2,223.2 186.6,224.3 186.6,225.2 187.4,225.2 185.8,225.8 186.6,226.7 186.2,227.4 187,227.6 186.6,229 185.8,229.1 186.6,230.5 185.8,230.5 187.4,230.5 186.6,231.3 185.8,231.4 187.4,231.9"/>
<polyline class="sD" points="198.8,215.5 198.8,217.7 198.2,217.8 198.8,219.4 199.4,219.9 198.8,220.2 198.2,220.3 198.8,221 198.5,221.6 199.1,221.7 197.9,221.8 199.7,222.1 200.3,222.1 197.3,222.2 198.8,222.3 198.2,222.4 199.4,222.6 200,222.7 197.6,222.8 198.8,223 198.2,223.2 199.4,223.3 200,223.4 198.8,224.3 198.5,224.9 199.1,225 199.7,225 197.9,225.1 200.3,225.4 198.8,225.5 198.2,226 199.1,226.1 198.8,226.9 198.2,227.3 199.4,227.4 198.8,227.8 200,227.8 198.8,228.5 198.8,229.8 199.4,230 198.5,230.4 199.1,230.5 199.7,230.8 198.8,231.1 198.2,231.4"/>
<polyline class="cD" points="210.8,214.4 210.1,214.4 211.5,214.7 210.8,215.2 210.8,216.3 210.8,216.9 210.1,217.4 210.8,217.8 211.5,218 210.1,218 212.1,218.1 210.8,218.9 210.1,219.4 210.8,219.7 211.5,220 210.5,220.2 210.8,220.9 211.5,221.2 210.1,221.2 209.5,221.4 210.8,222.4 211.5,222.7 210.1,222.7 210.8,223.3 211.8,223.3 211.1,223.8 210.5,223.9 211.8,224 209.8,224.3 209.2,224.3 210.8,224.5 212.4,224.5 211.5,224.7 210.1,225 210.8,225.3 211.5,225.7 210.8,226.2 210.8,227 210.1,227.1 211.5,227.1 209.5,227.2 212.1,227.2 210.8,227.8 210.1,228.2 210.8,229.3 210.8,209.7"/>
<polyline class="sL" points="230.8,177.2 230.8,178.3 231.7,178.5 229.9,178.6 230.8,179.5 230.8,181.5 231.3,182.4 230.8,183.3 229.9,183.7 231.7,184 230.8,184.3 229.9,184.7 232.7,184.8 231.7,185.1 230.8,185.5 230.8,187.5 231.7,187.6 230.8,188.5 230.8,189.7 229.9,189.9 231.7,190 232.7,190.4 230.8,191.1 230.8,192.2 231.7,192.4 230.8,193.4 230.8,195 229.9,195.6 230.8,196.3 231.7,196.7 230.8,168.6"/>
<polyline class="cL" points="242.7,175.9 242.7,177.6 243.6,177.7 241.8,178 244.6,178.2 240.8,178.3 242.7,179.1 241.8,179.5 243.6,179.8 240.8,179.9 242.7,180.5 243.6,180.8 242.7,182 243.6,182.1 242.2,182.8 243.2,183.5 242.2,183.8 242.7,184.7 241.8,185.1 242.7,186.7 242.7,187.8 241.8,188.1 242.7,189.4 243.6,190.2 242.2,190.3 242.7,191.5 243.6,191.5 242.7,193 242.7,194.5 242.7,196 242.7,170.1 242.7,198.5"/>
<polyline class="sD" points="254.9,173.2 254.1,173.7 254.9,174.4 255.7,174.8 254.5,175.1 253.8,175.5 254.9,175.8 255.7,175.9 254.9,176.8 255.7,177.4 254.9,179 255.7,179.1 254.1,179.3 253.4,179.7 254.9,179.8 255.7,180.1 254.5,180.5 253.8,180.5 256.4,180.5 253,180.8 255.3,181.1 254.5,181.4 253.8,181.5 255.3,181.9 256,182 254.9,182.8 254.1,183.2 254.9,183.7 255.3,184.4 254.5,184.7 255.7,185.1 254.9,186.1 255.7,186.3 254.9,187.5 255.3,188.2 254.9,188.9 254.1,189.5 254.9,189.7 254.1,190.3 255.3,190.4 256,190.9 254.9,191.1 254.1,191.4 254.9,193.5 255.7,193.6 254.9,168"/>
<polyline class="cD" points="266.8,166.5 266.8,167.9 266.8,170.3 266.4,171 266.8,172 266.8,174 266,174.3 267.6,174.4 265.2,174.5 268.4,174.5 266.8,174.8 266,175.1 266.8,176.1 267.6,176.1 266,176.2 265.2,176.5 268.4,176.6 266.8,177 266,177.1 267.6,177.3 265.2,177.4 266.8,178.2 266.4,179 266.8,181.5 266,181.6 267.6,181.8 268.4,182 266.8,182.4 266.8,183.8 266,183.9 267.6,184.1 268.4,184.1 265.2,184.3 266.8,184.6 266,184.8 267.6,185.2 266.8,185.8 266,185.9 266.8,186.9 266,187.2 266.8,188.1 266.8,189.3 267.2,190 266.4,190.6 266.8,191.5 266.8,163.6"/>
<polyline class="sL" points="286.8,238.5 285.9,239.3 286.8,239.9 286.8,241.5 285.9,241.5 286.8,242.6 287.7,242.8 285.9,242.8 288.7,243 284.9,243.2 286.8,244.2 285.9,244.2 287.7,244.7 288.7,245 286.8,246.1 287.7,246.2 285.9,246.4 284.9,246.5 286.8,247 287.7,247.2 285.9,247.4 288.7,247.5 286.8,248 285.9,248.4 287.7,248.5 284.9,248.9 286.8,249.4 287.7,249.5 285.9,250 286.8,251.4 286.8,233.2 286.8,235.8"/>
<polyline class="cL" points="298.6,237 298.6,238.5 299.5,238.6 297.7,239.2 298.6,240 299,240.8 298.2,241.3 298.6,242.1 299.5,242.4 297.7,242.4 296.9,242.9 298.6,243.1 299.9,243.2 297.7,243.4 296.9,243.8 298.6,244.2 299.5,244.4 297.7,244.6 300.3,244.8 296.9,244.8 298.6,245.2 298.6,246.1 299.5,246.5 297.7,246.7 298.6,248 297.7,248.2 299.5,248.5 298.6,249.3 298.6,250.2 299,251 298.6,235.7 298.6,253.4"/>
<polyline class="sD" points="310.7,235.7 310.7,236.5 311,237.2 310.7,238 310.1,238 311.3,238 312,238.1 309.4,238.5 312.6,238.5 310.7,238.6 311,239.2 310.4,239.3 310.7,239.8 310.1,239.8 311.3,240.2 310.7,240.5 310.1,240.8 310.7,241.4 310.7,242.5 310.1,242.7 311.3,243 312,243 310.7,243.3 310.7,244.2 311.3,244.3 310.1,244.6 310.7,244.9 311.3,245.2 310.1,245.3 310.7,246.3 311.3,246.5 310.1,246.7 310.7,247.5 311.3,247.5 310.1,247.6 310.7,248.4 310.1,248.9 310.7,249.2 310.7,250.2 311.3,250.3 310.7,251.8 311.3,251.8 310.7,252.5 310.7,253.4 310.1,253.4"/>
<polyline class="cD" points="322.8,236.2 322.2,236.6 322.8,237.2 322.2,237.5 322.8,238.1 323.4,238.5 322.8,238.9 322.2,239.2 322.8,239.6 322.8,240.5 322.8,241.5 323.4,241.7 322.2,241.7 322.8,242.3 323.4,242.3 322.2,242.5 321.6,242.7 322.8,243.1 322.2,243.1 323.4,243.2 321.6,243.5 322.8,243.7 322.8,244.3 323.4,244.7 322.2,244.8 324,244.8 322.8,244.9 321.6,245 321.1,245 324.5,245.1 323.4,245.3 322.5,245.5 323.1,245.8 322.8,246.3 323.4,246.5 322.2,246.6 322.8,247.2 323.4,247.5 322.2,247.6 322.8,247.8 322.8,249 322.8,249.7 322.8,251.2 322.2,251.4 322.8,252.2 322.8,231.5"/>
<polyline class="sL" points="351.9,204.5 351.9,208.5 352.5,208.7 351.3,208.9 351.9,209.9 351.3,210.1 352.5,210.1 351.9,210.9 351.3,211.3 351.9,212.3 352.5,212.5 351.9,213.1 351.3,213.4 352.2,213.7 352.8,213.8 350.7,213.9 351.9,214.2 351.3,214.3 352.5,214.4 353.1,214.5 350.7,214.6 350,214.6 353.8,214.6 351.9,215.1 351.3,215.4 352.5,215.5 353.1,215.6 350.7,215.8 351.9,215.8 352.5,216.2 351.3,216.2 353.1,216.4 351.9,217.2 352.5,217.3 351.3,217.4 350.7,217.4 353.1,217.8 351.9,217.8 350,217.9 351.9,219 351.3,219.1 352.5,219.2 350.7,219.4 351.9,219.9 352.5,220 351.3,220.1 350.7,220.4 353.1,220.4 351.9,220.7 352.5,220.8 351.3,220.9 350,220.9 353.8,220.9 350.7,221 353.1,221.2 351.9,221.4 351.3,221.6 351.9,222.3 351.3,222.8 351.9,222.9 352.5,223 350.7,223 353.1,223.2 353.8,223.4 351.6,223.5 350,223.5 352.2,223.7 351.6,224.2 352.5,224.3 351,224.6 351.9,224.7 351.9,225.5 351.3,225.6 352.5,225.8 351.9,226.4 352.5,226.4 351.3,226.4 353.1,226.6 351.9,227.2 352.5,227.2 351.3,227.6 353.1,227.7 351.9,227.9 351.9,228.7 351.3,229 352.5,229.2 350.7,229.2 351.9,229.8 352.5,230 351.3,230.2 350.7,230.4 351.9,231.9"/>
<polyline class="cL" points="363.9,216.3 363.9,217.1 364.4,217.4 363.4,217.5 362.9,217.6 363.9,217.7 363.9,218.2 363.4,218.7 363.9,219 364.4,219 363.4,219.3 362.9,219.5 363.9,219.5 364.7,219.5 365.2,219.7 362.3,219.8 363.9,220.1 364.4,220.3 363.9,220.6 363.9,221.4 363.9,222.2 363.4,222.3 364.4,222.5 363.9,223 364.4,223 363.4,223.2 362.9,223.2 364.9,223.4 363.9,223.6 364.4,223.8 363.4,224 362.9,224 363.9,224.2 364.7,224.2 365.2,224.3 362.3,224.4 363.4,224.6 362.9,224.7 364.2,224.7 364.7,225 365.2,225 362.3,225 363.6,225.1 363.1,225.2 365.7,225.2 361.8,225.2 363.9,226.3 364.4,226.3 363.4,226.3 364.9,226.3 362.9,226.3 365.5,226.6 362.3,226.6 363.9,226.8 363.1,226.8 364.4,227 364.9,227.1 362.6,227.1 362.1,227.1 363.6,227.3 365.5,227.3 363.1,227.4 363.9,227.8 364.4,227.9 363.4,228 364.9,228 363.9,228.4 362.9,228.4 364.4,228.8 363.6,228.9 363.1,228.9 364.9,229.2 364.2,229.3 362.6,229.3 365.5,229.3 363.6,229.4 364.2,229.8 363.6,230 363.1,230.1 363.9,230.5 363.4,230.8 364.2,230.9 364.7,231.1 363.6,231.3 364.2,231.5 363.1,231.5 364.9,231.6 362.6,231.8 365.5,231.8 363.9,232.1 363.4,232.3 363.9,233.2 363.9,237.9"/>
<polyline class="sD" points="375.7,206.6 375.7,208.1 375.2,208.3 375.7,208.7 376.2,208.7 375.2,209.1 375.7,209.4 375.2,209.6 376.2,209.6 374.7,209.7 376.7,209.7 375.7,210.1 375.2,210.1 376.2,210.2 374.7,210.3 375.5,210.5 375.9,210.9 375.7,211.4 375.2,211.4 376.2,211.4 376.7,211.6 374.7,211.7 375.7,211.9 375.2,211.9 375.5,212.4 375.9,212.6 376.4,212.7 375,212.8 375.7,213.1 376.2,213.2 375.2,213.3 374.7,213.4 376.7,213.5 375.7,213.9 376.2,214.3 375.7,214.5 375.7,215.3 375.2,215.6 376.2,215.6 374.7,215.7 375.7,215.9 376.7,215.9 374.3,215.9 377.1,215.9 377.6,216 373.8,216 375.2,216.1 376.2,216.2 374.7,216.3 375.7,216.9 376.2,217.1 375.7,217.5 376.2,217.6 375.2,217.6 376.7,217.7 374.7,217.7 374.3,217.7 375.7,218 376.2,218.4 375.2,218.5 375.7,218.6 376.7,218.7 375,218.9 375.7,219.4 376.2,219.5 375.2,219.6 376.7,219.6 374.7,219.7 375.7,219.9 374.3,219.9 376.2,220 375.7,220.4 376.2,220.6 375.2,220.6 376.7,220.7 375.7,220.9 374.7,221 377.1,221 376.2,221.1 375.2,221.2 375.7,221.5 376.4,221.6 375.2,221.7 374.7,221.9 375.7,222 376.2,222.1 375.9,222.5 375.5,222.5 376.4,222.6 375,222.7 374.5,222.9 375.7,222.9 376.2,223.2 375.7,223.4 375.2,223.5 376.2,223.7 375.5,223.9 375.9,224.1 376.4,224.2 375.7,224.5 375.7,225.1 375.2,225.1 376.2,225.1 376.7,225.3 374.7,225.4 375.7,225.8 376.2,225.8 375.2,225.9 374.7,226 375.7,226.4 375.2,226.5 376.2,226.7 375.7,227 375.2,227.1 376.4,227.1 375.7,227.5 376.2,227.7 375.2,227.8 374.7,227.9 376.7,228 375.7,228.4 376.2,228.8 375.5,228.9 375,228.9 376.7,229 374.5,229.1 375.7,229.6 376.2,230 375.7,230.6 375.7,231.6 375.2,231.8 376.2,231.9 375.7,191"/>
<polyline class="cD" points="387.9,217.6 388.4,217.7 387.4,217.8 388.8,218 387.9,218.2 388.4,218.5 387.9,218.7 387.4,218.7 388.8,218.8 388.4,219 387.7,219.1 387.2,219.2 388.8,219.3 386.7,219.4 387.9,219.5 388.4,219.5 389.3,219.5 386.3,219.6 387.4,219.6 389.8,219.6 385.8,219.8 387,219.8 387.9,220.1 387.4,220.2 388.4,220.3 388.8,220.3 387.9,220.8 388.4,220.8 387.4,220.9 387,221.2 387.9,221.3 388.4,221.4 387.4,221.5 388.8,221.6 389.3,221.6 386.7,221.6 386.3,221.7 387.9,221.8 389.8,221.8 388.4,221.9 385.8,221.9 387.4,222 387,222.2 387.9,222.4 388.4,222.4 387.4,222.6 388.8,222.6 387,222.7 389.3,222.7 386.5,222.8 386,222.8 389.8,222.8 387.9,222.9 388.4,223 387.4,223.2 388.8,223.3 387.9,223.4 387,223.4 388.4,223.7 387.4,223.7 388.8,223.9 387.9,223.9 387,223.9 386.5,224 389.3,224 387.7,224.3 388.1,224.4 388.6,224.4 387.2,224.4 386.7,224.4 389.1,224.7 387.9,225 387.4,225 388.4,225.1 388.8,225.1 387,225.1 386.5,225.2 389.3,225.3 389.8,225.3 387.9,225.5 387.4,225.6 388.4,225.6 387,225.6 388.8,225.7 386.3,225.7 389.5,225.7 385.8,225.7 390,225.9 387.9,225.9 387.4,226.2 388.4,226.2 388.8,226.3 387,226.3 387.9,226.6 388.4,226.8 387.4,226.8 387,226.9 388.8,226.9 386.5,227 389.3,227 387.9,227.2 387.4,227.3 388.4,227.4 387,227.5 387.9,227.9 388.4,228.2 387.9,229.1 387.4,229.2 387.9,229.6 388.4,229.8 387.4,229.9 387,229.9 388.8,229.9 389.3,229.9 387.9,230.2 386.5,230.2 387.4,230.5 387.9,230.8 388.4,230.9 387.7,231.3 388.1,231.3 387.2,231.5 387.9,231.7 388.4,231.9 387.4,231.9 388.8,231.9 387,232 386.5,232.1 387.9,232.3 387.9,233 388.4,233.2 387.4,233.2 387.9,209.7"/>
<polyline class="sL" points="407.8,166.7 407.8,167.9 407.1,168 407.8,169.9 407.1,170.4 407.8,170.7 407.1,171.2 408.1,171.3 408.8,171.6 406.4,171.7 407.8,172.1 407.1,172.4 408.1,172.7 407.5,173.1 408.8,173.2 407.8,173.9 407.1,174 408.5,174.5 407.8,174.7 407.1,174.8 406.4,174.9 408.8,175.1 409.5,175.2 407.8,175.4 407.1,175.8 408.5,175.8 409.2,176 406.4,176 407.8,176.2 405.7,176.2 409.9,176.4 407.1,176.7 407.8,176.9 408.5,176.9 409.2,176.9 406.4,177 405.7,177 409.9,177.1 407.5,177.5 408.1,177.7 406.8,178 408.8,178.2 407.5,178.3 408.1,178.5 406.4,178.6 409.2,178.8 407.8,179.4 407.8,180.1 408.5,180.5 407.8,181 407.1,181.1 408.5,181.3 407.8,182 408.5,182.1 407.1,182.1 406.4,182.4 407.8,183.1 407.1,183.3 408.5,183.7 407.8,184 407.1,184.2 407.8,185 407.1,185.3 408.5,185.4 409.2,185.5 407.8,185.8 408.5,186.2 407.8,186.7 407.1,186.8 408.5,187.1 407.8,187.6 407.8,188.3 407.1,188.3 408.5,188.4 409.2,188.8 406.4,188.9 409.9,188.9 407.8,189.2 407.1,189.2 407.8,190.7 407.1,190.7 408.5,190.9 407.8,191.6 408.5,192 407.1,192.2 407.8,193.7 408.5,193.8 407.8,194.8 407.1,195.2 407.8,195.8 408.5,195.9 407.8,196.7 407.8,162"/>
<polyline class="cL" points="420,170.6 420,171.5 420,172.2 420.7,172.4 420,173.1 420.7,173.1 419.3,173.2 420,174.1 420.7,174.3 419.3,174.7 420,175.6 420.7,176 419.3,176 420,176.5 420.7,176.7 419.3,177 421.4,177 420,177.4 420.7,177.6 420,178.2 419.3,178.3 420.7,178.6 420,178.9 419.3,179.2 420,179.7 420.7,179.9 420,180.6 419.3,180.7 420.7,180.9 420,181.5 419.3,181.8 420,182.9 419.3,183.1 420.7,183.4 418.6,183.5 421.4,183.5 420,183.6 419.7,184.3 420.3,184.3 419,184.3 421,184.8 420,185 419.3,185 420.7,185.5 420,185.8 419.3,186.1 420,186.5 420.7,186.7 419,186.8 421.4,187 418.3,187 422.1,187 419.7,187.1 420.3,187.3 419,187.5 421,187.6 421.7,187.7 420,188 419.3,188.2 420.7,188.3 421.4,188.3 418.6,188.5 420,188.8 419.3,188.9 420.7,189.1 421.4,189.1 420,189.7 419.3,189.9 420,190.6 419.3,190.7 420.7,190.7 420,192 420.7,192.5 420,192.7 420,194.1 420.7,194.6 420,194.9 419.3,195.1 418.6,195.2 420.7,195.5 421.4,195.5 417.9,195.5 420,195.6 419.3,196.1 420,196.5 420.7,196.8 419.3,197 420,197.4 421,197.4 420,198.6 420,200.5 419.3,200.6 420,159.4 420,162.8 420,166.7"/>
<polyline class="sD" points="431.8,158.9 431.3,159.2 432.3,159.3 431.8,160 432.3,160.4 431.8,160.9 431.3,161.2 432,161.4 432.5,161.4 431.6,161.6 432,161.9 431.6,162.1 432.5,162.2 432,162.5 431.6,162.8 431.8,163.3 431.3,163.3 432.3,163.4 431.8,164 432.3,164.1 431.3,164.2 431.8,164.5 432.5,164.5 430.8,164.5 431.3,164.9 432,165 432.8,165 430.8,165 431.8,165.7 432.3,165.8 431.3,165.8 431.8,166.3 431.3,166.5 432.3,166.6 432.8,166.7 431.8,167 432.3,167.3 431.8,167.5 431.3,167.5 430.8,167.7 432.8,167.7 430.3,167.7 433.3,167.7 429.8,167.7 433.8,167.8 432,167.9 431.6,168.3 431.8,168.8 431.3,169.1 432.3,169.2 431.8,169.3 432.8,169.3 430.8,169.5 430.3,169.5 432,169.8 431.8,170.6 432.3,171 431.8,171.2 431.3,171.4 432.3,171.5 431.8,171.8 431.1,171.8 432.8,171.8 431.8,172.5 431.3,172.5 432.3,172.7 431.8,173.6 431.3,173.6 432.3,173.7 432.8,173.9 430.8,174 431.8,174.2 431.3,174.3 432.3,174.4 431.8,174.8 431.1,174.8 432.3,175 432.8,175 430.6,175 433.3,175.1 431.8,175.3 431.3,175.3 431.8,176 431.3,176.1 432.3,176.1 432.8,176.1 430.8,176.2 433.3,176.2 431.8,176.7 431.3,176.8 432.3,176.9 431.8,177.3 431.8,177.8 431.3,178 432,178.3 432.5,178.4 431.8,179 432.3,179.2 431.3,179.4 431.8,179.5 432.8,179.5 432.3,179.8 431.8,180.1 431.3,180.3 432.3,180.4 430.8,180.6 431.8,181 431.3,181 432.3,181 432.8,181.1 430.8,181.3 430.3,181.3 431.8,181.8 432.3,182 431.8,182.3 432.3,182.7 431.6,182.8 431.1,182.8 432.8,183 431.8,183.6 431.3,183.8 432.3,184 431.8,184.2 431.1,184.2 431.8,184.9 431.6,185.3 432,185.7 432.5,185.7 431.8,186.4 431.3,186.6 431.8,187.1 431.8,188.4"/>
<polyline class="cD" points="444,172 443.4,172.3 444.3,172.6 443.7,172.9 444.3,173.3 443.7,173.7 444.9,173.8 444.3,174.2 443.7,174.6 444.9,174.7 444,175.2 443.4,175.3 444.6,175.4 445.2,175.6 442.8,175.6 444,176 444.6,176 443.4,176.2 444,176.7 444.6,176.8 443.4,176.9 445.2,177.2 444,177.3 444.6,177.5 443.4,177.5 442.8,177.7 442.2,177.7 445.8,177.8 444,178 443.4,178.2 444.6,178.4 442.8,178.5 444,178.9 443.4,178.9 445.2,178.9 444.6,179.2 442.8,179.3 442.2,179.4 443.7,179.4 445.2,179.6 445.8,179.6 444,180 443.4,180 444.6,180.2 445.2,180.2 443.7,180.6 444.3,180.7 444.9,180.8 443.1,180.8 442.5,181.1 444,181.2 444.6,181.4 443.4,181.4 445.2,181.5 445.8,181.5 442.8,181.6 444,181.9 444.6,182 442.2,182 443.4,182 442.8,182.4 444,182.6 444.6,182.6 445.2,182.6 443.4,182.7 445.8,182.8 442.8,183.1 444,183.2 444.6,183.4 443.4,183.5 445.2,183.7 442.8,183.8 444,183.9 444.6,184.2 443.4,184.2 445.5,184.3 442.5,184.4 444,184.7 444.6,184.8 443.4,185 445.2,185 444,185.5 444.6,185.6 443.4,185.7 445.2,185.7 442.8,186.1 444,186.3 444.6,186.3 443.4,186.4 445.2,186.5 445.8,186.6 442.5,186.7 444,187.2 443.4,187.6 444.6,187.6 445.2,187.7 444,188 442.8,188.1 442.2,188.1 444.6,188.3 443.4,188.4 444,188.6 442.8,188.8 444.9,188.9 443.4,189 444,189.4 444.6,189.6 443.4,189.8 445.2,189.9 442.8,190 444,190.2 443.4,190.4 444.6,190.5 445.2,190.6 444,191 443.4,191.1 444.6,191.3 445.2,191.3 442.8,191.3 444,191.6 443.4,192 444,192.3 444.6,192.5 444,192.9 444.6,193.4 444,194.8 443.4,195.1 444.6,195.1 442.8,195.1 444,195.4 444,196.1 444.3,196.7 444,167.5"/>
<polyline class="sL" points="463.7,228 463.7,228.6 464.2,228.7 463.7,230.2 463.2,230.4 464.2,230.6 464.7,230.6 462.7,230.6 463.7,231.3 463.2,231.4 463.7,232.3 463.7,232.9 464.2,233 463.2,233.1 463.7,233.4 464.5,233.5 463.2,233.8 463.7,234.4 463.2,234.5 464.2,234.5 464.7,234.6 462.7,234.7 463.7,234.9 465.3,235 464,235.4 463.4,235.8 464.2,235.9 463.7,236.4 464.2,236.6 463.7,236.9 463.2,237.1 464.2,237.4 463.7,237.6 463.2,237.8 464.5,237.9 462.7,238 464,238.1 463.4,238.3 465,238.3 462.1,238.3 464,238.6 462.9,238.7 463.7,239.1 464,239.6 463.4,239.6 462.9,239.8 463.7,240.1 463.2,240.4 463.7,240.8 463.7,241.3 463.2,241.4 464.2,241.5 462.7,241.5 464.7,241.6 462.1,241.7 465.3,241.7 465.8,241.7 461.6,241.8 463.7,241.9 463.4,242.4 464,242.4 464.5,242.5 462.9,242.7 462.4,242.8 463.7,243.2 464.2,243.4 463.7,243.8 463.2,243.8 464.2,244.1 462.7,244.2 463.7,245 463.7,245.7 464.2,245.9 463.4,246.2 463.7,246.7 464.2,247.1 463.4,247.2 463.7,248.1 464.2,248.1 463.2,248.1 463.7,248.6 464.2,248.8 463.2,248.9 462.7,249.1 463.7,249.7 463.7,250.6 464.2,251 463.2,251 463.7,251.3 463.7,252 463.7,252.8 463.2,253 463.7,222.4 463.7,224.6 463.7,226.5"/>
<polyline class="cL" points="475.9,235.6 476.5,235.7 475.3,235.9 475.9,236.3 476.5,236.7 475.9,237.1 475.3,237.4 476.5,237.6 475.9,237.8 474.7,237.8 476.5,238.2 475.6,238.3 475.9,238.9 476.5,238.9 475.3,239 477.1,239.2 476.2,239.4 475.6,239.8 476.2,240 475,240 476.8,240.1 475.9,240.6 475.3,240.6 476.5,241 475.9,241.5 475.3,241.5 476.5,241.6 475.9,242.1 475.3,242.3 476.5,242.4 474.7,242.6 477.1,242.7 475.9,242.7 475.3,243 476.5,243.1 474.7,243.2 477.1,243.3 475.9,243.4 477.6,243.4 476.5,243.8 475.9,244.4 475.3,244.7 476.5,244.9 475.9,245.3 475.3,245.5 476.5,245.7 475.9,245.9 477.1,245.9 474.7,245.9 477.6,246 475.3,246.3 474.2,246.3 476.5,246.4 475.9,246.5 474.7,246.7 477.1,246.7 475.3,246.9 477.6,246.9 475.9,247.1 476.5,247.3 475,247.4 477.1,247.6 475.6,247.7 476.2,248 475,248.1 476.8,248.2 475.6,248.3 477.4,248.4 474.4,248.5 473.9,248.5 477.9,248.5 475.9,249.2 476.5,249.3 475.3,249.4 474.7,249.6 477.1,249.6 474.2,249.6 477.6,249.7 475.9,250.3 475.3,250.5 476.5,250.7 474.7,250.8 475.9,251 476.5,251.4 475.3,251.4 477.1,251.5 475.9,251.9 474.7,251.9 476.5,252 475.3,252.4 475.9,253.3 475.9,253.9 475.9,257.2"/>
<polyline class="sD" points="487.8,228.2 487.8,228.9 487.3,229.2 488.3,229.3 487.8,229.7 487.3,229.8 487.8,230.4 487.3,230.8 487.8,231.1 488.3,231.1 487.8,231.6 487.3,231.7 488.3,232 487.8,232.2 487.3,232.5 487.8,232.8 488.3,232.9 487.8,233.6 487.3,233.8 488.3,234 487.8,234.3 488.3,234.6 487.5,234.8 487.8,235.5 488.3,235.5 487.3,235.6 488.8,235.9 487.8,236.2 487.3,236.2 488.3,236.4 487.8,237.1 487.3,237.2 488.3,237.4 488.8,237.6 486.8,237.6 487.8,237.9 487.3,238 488.3,238.3 486.8,238.4 488.8,238.4 486.2,238.4 487.8,238.5 487.3,238.7 488.3,238.9 487.8,239.1 486.8,239.2 488.8,239.2 487.5,239.6 488.1,239.9 487.5,240.2 487,240.3 488.1,240.5 487.5,240.9 487.8,241.4 487.3,241.6 488.3,241.7 486.8,241.7 488.8,241.7 487.8,242 486.2,242 487.3,242.2 488.3,242.2 486.8,242.3 488.8,242.3 487.8,242.9 488.3,243 487.3,243.2 487.8,243.8 488.3,244.1 487.5,244.2 487,244.2 488.8,244.3 486.5,244.3 489.4,244.4 486,244.5 489.9,244.5 488.1,244.7 487.5,244.9 487,245 487.8,245.5 488.3,245.6 487.3,245.7 488.8,245.9 486.8,245.9 489.4,246 487.8,246.2 487.8,246.9 487.3,247 488.3,247.3 488.8,247.3 486.8,247.3 489.4,247.4 487.8,247.6 487.3,247.7 486.2,247.8 488.3,247.9 488.8,247.9 486.8,247.9 489.4,248 487.8,248.2 485.7,248.2 487.3,248.4 488.3,248.6 487.8,248.8 487.3,248.9 488.1,249.3 488.6,249.4 487.5,249.4 487,249.6 489.1,249.7 487.8,250.2 487.3,250.3 488.3,250.3 486.8,250.3 488.8,250.5 487.8,250.7 487.3,251 488.3,251.1 487.8,251.3 487.8,251.9 487.3,252.2 487.8,252.8 488.3,252.9 487.3,253 486.8,253 488.8,253.1 487.8,253.4 487.3,253.8 487.8,255 487.8,256 487.8,256.8 488.3,257.2 487.8,216.2"/>
<polyline class="cD" points="499.9,234.5 499.9,235.3 500.4,235.3 499.4,235.4 500.9,235.7 500.1,235.7 499.7,235.9 499.2,236.1 499.9,236.5 500.4,236.5 499.4,236.6 500.9,236.7 499.9,237.1 499.4,237.4 500.1,237.5 500.6,237.7 499.7,237.9 499.2,237.9 500.1,238.2 500.6,238.2 498.7,238.3 499.9,238.8 500.4,238.9 499.4,239 498.9,239.2 500.9,239.3 499.9,239.4 500.4,239.5 499.4,239.5 498.7,239.6 501.3,239.6 498.2,239.7 499.9,240 499.4,240.1 499.9,240.6 500.4,240.7 499.4,240.8 500.9,240.8 498.9,240.9 499.9,241.2 500.4,241.5 499.4,241.7 498.9,241.7 499.9,241.8 500.4,242 500.9,242.1 499.2,242.1 498.7,242.2 499.9,242.3 499.9,242.9 499.4,243 500.4,243 500.9,243.1 498.9,243.1 498.5,243.1 501.3,243.3 498,243.3 499.9,243.4 501.8,243.5 499.4,243.6 500.4,243.7 499.9,244 499.4,244.1 500.4,244.2 500.9,244.3 498.9,244.4 498.5,244.4 499.9,244.5 501.3,244.6 499.4,244.6 500.4,244.7 500.9,244.9 498.9,245 498.5,245 499.9,245.1 500.4,245.2 499.4,245.2 501.1,245.3 501.6,245.3 498,245.4 498.9,245.5 498.5,245.5 499.9,246 500.4,246.1 499.4,246.1 500.9,246.2 500.1,246.5 498.9,246.5 499.7,246.5 500.6,246.6 501.1,246.6 498.5,246.7 499.9,247 499.4,247 500.4,247 500.9,247.1 498.9,247.2 501.3,247.2 498.5,247.3 501.8,247.3 499.7,247.4 500.1,247.5 500.6,247.5 498,247.6 499.2,247.7 501.1,247.9 499.9,248.1 500.4,248.2 499.4,248.4 498.9,248.4 499.9,248.7 500.4,248.8 500.9,248.8 499.4,249 499.9,249.5 499.4,249.6 500.4,249.8 499.7,250 500.1,250.4 499.4,250.4 500.6,250.5 498.9,250.5 501.1,250.6 499.9,251.2 500.4,251.6 499.9,252.4 499.4,252.6 500.4,252.8 499.9,253 499.2,253.1 499.9,253.6 500.4,253.9 499.9,229.8 499.9,232"/>
<polyline class="sL" points="528.3,211 528.3,212.2 528.9,212.3 527.7,212.3 527.1,212.4 529.5,212.7 528.3,213.3 528.3,214.3 528.3,215.4 528.9,215.4 527.7,215.5 527.1,215.8 528.3,216.7 527.7,216.7 528.9,216.9 529.5,217 528.3,217.6 528.9,217.6 528.3,218.3 528.3,219.4 527.7,219.4 528.9,219.6 527.1,219.6 529.5,219.8 526.5,219.9 528.3,220.3 528.9,220.4 527.7,220.4 529.5,220.5 527.1,220.5 530.1,220.5 526.5,220.8 528.3,221.1 528.9,221.1 527.7,221.3 527.1,221.4 529.5,221.4 526.5,221.5 528.3,221.8 527.7,221.9 528.9,222.2 528.3,222.7 528.9,223 528,223.3 527.4,223.5 528.6,223.5 529.2,223.7 526.8,223.7 529.8,223.8 526.2,223.9 528.3,224.1 527.7,224.4 528.3,224.7 528.9,224.8 527.4,224.9 529.5,225.1 528.3,226 527.7,226.1 528.9,226.1 527.1,226.4 529.5,226.4 530.1,226.5 528.3,226.8 527.7,226.8 528.9,227 527.1,227.2 529.5,227.3 528.3,227.8 528.6,228.4 528,228.5 528.9,229 528.3,229.1 527.7,229.2 527.1,229.4 529.5,229.4 526.5,229.5 528.6,229.6 530.1,229.6 528,229.8 527.4,229.9 529.2,230.1 528.6,230.3 526.8,230.4 528,230.5 527.4,230.5 529.5,230.6 530.1,230.7 528.6,230.9 526.5,230.9 528.3,232.2 528.9,232.5 528,232.7"/>
<polyline class="cL" points="540.3,214.4 539.9,214.5 540.3,215.3 540.3,215.8 539.9,215.9 540.5,216.2 540.9,216.2 540.3,217.1 540.7,217.4 539.9,217.5 540.3,218 540.7,218 539.9,218.1 541.1,218.4 540.3,218.4 539.9,218.8 540.3,218.9 540.3,219.5 539.9,219.8 540.7,219.9 541.1,219.9 540.3,220.1 539.7,220.2 540.7,220.3 541.1,220.4 540.3,220.6 539.9,220.6 540.3,221 540.7,221.3 539.9,221.3 539.5,221.4 540.3,221.5 540.1,221.9 540.5,222 539.7,222.1 540.9,222.1 541.3,222.1 540.3,222.5 539.9,222.5 540.7,222.5 540.3,223.2 540.3,223.7 540.7,224 540.1,224.1 540.3,224.5 539.9,224.5 540.7,224.8 541.1,224.8 540.3,225.1 540.7,225.2 540.3,225.6 539.9,225.7 540.7,225.7 539.5,225.7 541.1,225.9 541.5,225.9 539.1,226 538.6,226 542,226 542.4,226 540.3,226.2 540.7,226.2 540.3,226.8 540.7,226.9 539.9,227 541.1,227.1 540.3,227.2 540.3,228.1 539.9,228.3 540.3,228.6 540.7,228.8 539.9,228.9 540.3,229.2 539.9,229.5 540.3,230.3 540.3,230.9 540.7,231.1 539.9,231.1 540.3,231.3 541.1,231.4 539.5,231.4 539.1,231.4 540.3,232.4 539.9,232.5 540.7,232.6 540.3,233.1 539.9,233.3 540.3,233.8 539.9,233.8 540.5,234.2 540.3,234.9 540.1,235.3 540.3,205.8"/>
<polyline class="sD" points="552.3,211.8 552.7,212.1 552.3,213 552.3,214.3 552.5,214.7 552.1,214.8 552.9,214.9 551.7,215 551.3,215 553.3,215.1 552.3,215.2 551.9,215.4 552.7,215.4 551.5,215.5 553.1,215.6 552.3,215.7 551.9,215.8 552.5,216.1 552.9,216.1 552.3,216.7 551.9,216.8 552.7,216.9 553.1,217 551.5,217 551.1,217.1 552.3,217.2 552.7,217.4 552.3,217.7 551.9,217.8 552.7,218 552.3,218.1 551.7,218.2 553.1,218.2 551.3,218.3 552.7,218.4 552.3,218.6 551.9,218.7 551.5,218.7 552.7,218.9 552.3,219 553.1,219 551.9,219.2 551.5,219.3 552.7,219.3 553.5,219.4 552.3,219.6 551.9,219.6 552.9,219.7 552.3,220.2 552.7,220.2 551.9,220.2 552.3,220.9 551.9,221 552.7,221.1 553.1,221.1 551.5,221.2 553.5,221.2 551.1,221.3 552.3,221.4 553.9,221.4 551.9,221.5 552.7,221.5 553.1,221.6 551.5,221.7 552.3,221.8 551.9,221.9 552.3,222.4 552.7,222.7 552.3,222.9 551.9,223 552.7,223.1 551.5,223.1 553.1,223.2 553.5,223.3 552.3,223.3 551.9,223.5 551.1,223.5 552.7,223.6 551.5,223.6 553.9,223.6 550.7,223.6 553.1,223.6 550.2,223.7 552.3,223.7 553.5,223.8 551.9,223.9 551.3,224 552.7,224.1 552.3,224.2 551.9,224.6 552.7,224.6 552.3,224.7 551.5,224.8 553.1,224.8 551.1,224.8 553.5,224.9 550.7,224.9 552.7,225.1 552.1,225.1 552.3,225.5 551.9,225.5 552.7,225.8 553.1,225.8 551.5,225.9 552.3,226.1 551.9,226.2 551.1,226.2 552.7,226.2 553.3,226.2 551.5,226.4 553.7,226.4 550.7,226.4 552.3,226.7 552.7,226.9 552.3,227.2 551.9,227.4 552.7,227.4 552.3,227.7 552.9,227.7 551.9,227.9 551.5,228 553.3,228 551.1,228 552.3,228.1 551.9,228.4 552.7,228.4 552.3,229.2 552.3,229.8 551.9,230 552.3,230.2 552.3,230.6 552.3,231.1"/>
<polyline class="cD" points="564.5,212.9 564.2,213.4 564.8,213.5 565.3,213.6 563.7,213.7 563.2,213.8 564.5,214.3 565,214.5 564,214.5 565.5,214.7 563.5,214.8 562.9,214.8 564.5,214.9 566.1,214.9 564.5,215.5 564,215.6 565,215.7 565.5,216 564.5,216.1 564,216.2 563.5,216.2 565,216.3 565.8,216.5 562.9,216.5 566.3,216.5 562.4,216.6 564.5,216.7 565,217.1 564.2,217.2 563.7,217.3 565.5,217.6 564.5,217.7 565,217.7 563.2,217.8 564,218 564.5,218.3 564.5,218.8 564,218.8 565,218.8 564.2,219.3 564.8,219.4 565.3,219.5 564.5,219.9 564,220.2 565,220.2 565.5,220.4 564.5,221.3 564,221.3 565,221.3 563.5,221.4 565.5,221.4 566.1,221.4 562.9,221.6 564.2,221.8 564.8,222 563.7,222.1 565.3,222.1 563.2,222.2 564.2,222.3 564.8,222.6 563.5,222.6 564.2,222.9 564.8,223.1 565.3,223.1 563.7,223.3 564.2,223.4 564.8,223.6 565.3,223.8 563.5,223.8 565.8,223.8 562.9,223.8 566.3,223.8 564.2,224 562.4,224 564.8,224.3 565.3,224.4 564.2,224.6 563.7,224.6 565.8,224.8 564.8,224.8 563.2,224.9 565.3,225 564.2,225.2 563.7,225.2 566.1,225.3 562.7,225.3 566.6,225.4 564.8,225.5 565.3,225.7 564.2,225.8 564.5,226.2 565,226.3 564,226.4 565.5,226.4 563.5,226.4 562.9,226.4 566.1,226.5 564.5,227.4 564,227.5 565,227.7 565.5,227.7 563.5,227.8 564.5,228.2 564,228.3 565,228.3 563.5,228.5 565.5,228.7 562.9,228.7 564.5,228.9 565,229 564,229.1 563.5,229.1 565.5,229.2 566.1,229.2 564.5,229.5 564,229.8 564.5,230.6 565,230.9 564.5,231.2 564,231.2 565,231.5 564.5,231.8 564,231.9 563.5,232 565,232.1 564.5,232.4 564,232.8 564.5,232.9 565,233 564.5,233.5 565,233.7 564.2,234 564.5,205.3"/>
<polyline class="sL" points="584.2,167.3 584.2,168.8 584.2,170.2 584.8,170.5 583.6,170.5 583,170.7 584.2,170.8 584.8,171.1 583.6,171.2 584.2,172.3 584.8,172.4 583.6,172.5 583,172.5 585.4,172.7 584.2,173.9 583.6,174 584.8,174.2 585.4,174.5 584.2,174.5 584.8,174.9 584.2,176.5 584.8,176.7 583.6,176.8 584.2,177.3 584.8,177.4 583.6,177.5 585.4,177.6 584.2,178 584.8,178.2 583.6,178.3 584.2,178.9 583.6,179 584.8,179 583,179 585.4,179.3 584.2,179.8 583.6,179.8 584.2,180.5 584.8,180.8 583.6,180.9 584.2,181.2 584.2,181.8 583.6,182 584.8,182.2 584.2,182.5 584.5,183 583.9,183.3 583.3,183.3 585.1,183.4 584.5,183.6 583.6,183.8 585.4,184 584.2,184.4 583.6,184.6 584.8,184.6 585.4,184.9 583,185 586,185 584.2,185.2 583.6,185.2 584.8,185.3 582.4,185.5 584.2,186.1 584.8,186.1 583.6,186.3 584.2,186.8 584.8,187 583.6,187.2 583,187.4 584.2,187.5 584.8,187.7 584.2,188.1 584.8,188.4 583.6,188.4 584.2,188.9 584.8,189.2 583.9,189.4 583.3,189.4 584.5,189.9 583.9,190 584.5,190.5 583.9,190.7 583.3,190.7 584.8,191.1 584.2,191.3 584.8,191.7 584.2,192.4 584.8,192.9 584.2,193 583.6,193.3 584.2,193.8 584.8,194.1 584.2,198.8"/>
<polyline class="cL" points="596.3,170 596.3,170.7 596.3,171.6 596.9,171.6 596.3,172.3 596.3,173.8 595.7,174 596.6,174.4 597.3,174.5 596,174.6 595.3,174.6 596.3,175.2 596.9,175.2 595.7,175.2 596.3,176.7 596.9,176.9 595.7,177.1 597.6,177.2 596.3,177.4 595,177.5 596.9,177.9 596,178 597.6,178 595.3,178.1 594.7,178.1 598.2,178.4 596.3,179.2 595.7,179.3 596.3,179.9 596.3,180.6 596.9,180.8 595.7,181 595,181.1 597.6,181.1 596.3,181.3 598.2,181.3 594.4,181.4 596.9,181.6 596.3,182.5 596.3,183.3 595.7,183.4 596.6,183.8 596.3,184.6 596.9,184.6 595.7,184.6 595,185 597.6,185 596.3,185.4 596.9,185.9 595.7,186 597.6,186 596.3,186.5 596.9,186.6 595.7,187 596.3,187.3 596.9,187.8 595.7,187.8 596.3,188.1 595,188.1 595.7,188.6 596.6,188.6 597.3,188.7 595,188.9 597.9,189.1 596.3,190 596.9,190 595.7,190.1 597.6,190.4 596.3,190.9 595.7,191.1 596.9,191.2 595,191.4 597.6,191.5 596.3,191.9 596.9,191.9 595.7,191.9 594.7,192.1 597.6,192.2 596.3,192.6 596.9,192.7 595.7,192.7 595,192.9 596.3,194.1 596,194.7 596.6,194.8 597.3,195 596.3,195.5 596.9,195.6 595.7,195.9 596.3,196.2 596.9,196.4 596.3,198 596.3,166.2"/>
<polyline class="sD" points="608.3,165 608.3,165.8 607.8,165.8 608.8,166.1 607.3,166.1 608.3,166.4 608.8,166.6 608.3,167.1 607.8,167.6 608.8,167.6 607.3,167.6 608.3,167.8 609.3,167.8 606.7,168 609.9,168 608.8,168.2 608.3,168.3 607.8,168.4 608.8,168.8 608.3,168.9 608.3,169.5 607.8,169.5 608.8,169.8 608.3,170.1 607.8,170.5 608.3,170.7 608.8,170.9 607.3,170.9 609.3,171 607.8,171 608.3,171.8 607.8,171.9 608.8,172 609.3,172.1 607.3,172.2 609.9,172.2 608.3,172.4 607.8,172.7 608.8,172.7 607.3,172.7 608.3,173 608.8,173.3 608,173.5 607.5,173.5 609.3,173.5 608.6,173.8 608,174.1 608.6,174.4 608,174.8 608.6,175 608.3,175.5 607.8,175.5 608.8,175.8 607.3,176 608.3,176.4 607.8,176.4 608.8,176.5 608.3,177.2 608.8,177.3 607.8,177.4 609.3,177.5 608.3,177.8 607.3,177.8 608.3,178.7 607.8,178.8 608.8,178.9 608.3,179.7 607.8,179.7 608.3,180.2 607.8,180.3 608.8,180.5 609.3,180.6 608.3,180.9 607.8,180.9 608.8,181.1 609.3,181.2 607.3,181.2 606.7,181.3 609.9,181.3 610.4,181.3 608.3,181.4 607.8,181.6 608.8,181.7 609.3,181.7 608.3,182.5 607.8,182.7 608.8,182.8 607.3,182.8 609.3,182.9 608.3,183.3 608.8,183.5 607.8,183.5 607.3,183.7 609.3,183.8 606.7,183.8 608.3,184.2 608.8,184.3 607.8,184.3 607.3,184.5 609.3,184.6 608.3,184.9 607.8,185.1 608.8,185.1 607.3,185.2 609.3,185.4 608.3,185.6 607.8,185.7 608.8,185.7 607.3,185.8 609.3,185.9 608.3,186.2 608.8,186.4 607.8,186.6 608.3,187.6 608.8,187.7 608,188.1 608.6,188.3 609.1,188.4 607.5,188.4 608.3,189.2 608.3,190.2 607.8,190.2 608.8,190.5 608,190.7 607.5,190.8 608.6,191.1 609.1,191.2 608,191.5 607.5,191.5 608.6,191.8 608,192.2 608.3,193.3 608.3,161.5 608.3,163.4"/>
<polyline class="cD" points="620.4,169.3 620.1,169.8 620.4,170.3 619.9,170.6 620.4,171 620.9,171.1 619.9,171.3 619.4,171.4 621.4,171.5 620.4,171.6 620.9,171.9 619.9,172 621.4,172 620.4,172.3 620.9,172.5 619.6,172.5 621.4,172.7 619.1,172.8 620.4,173.1 620.9,173.2 619.9,173.5 619.4,173.6 620.4,173.9 620.9,174 619.9,174.1 621.4,174.3 620.4,174.5 620.9,174.6 619.9,174.7 619.4,174.7 621.7,174.8 618.8,175 620.4,175.2 620.9,175.2 619.9,175.4 621.4,175.5 620.4,175.8 620.9,175.8 619.4,175.9 619.9,176.1 621.4,176.3 620.4,176.6 620.9,176.7 619.9,176.7 619.4,176.8 621.4,177 620.4,177.5 619.9,177.5 620.9,177.7 619.4,177.8 621.4,177.8 620.4,178.2 620.9,178.2 619.9,178.3 620.4,178.8 619.9,178.9 620.4,179.6 620.9,179.8 619.9,179.9 621.4,180 619.4,180 618.8,180 622,180.1 620.4,180.2 618.3,180.3 620.9,180.3 622.5,180.3 619.9,180.5 619.4,180.6 621.4,180.7 620.4,181.1 619.9,181.2 620.9,181.3 621.4,181.4 619.4,181.4 620.4,182 619.9,182.2 620.4,182.6 619.9,182.8 620.9,183 620.4,183.2 621.4,183.3 619.9,183.5 620.4,183.7 620.9,183.9 619.4,183.9 620.4,184.7 619.9,184.8 620.9,184.9 619.4,184.9 620.4,185.3 620.4,185.9 619.9,186 620.9,186 621.4,186 619.4,186 622,186 618.8,186.1 622.5,186.3 618.3,186.3 620.4,186.5 619.9,186.9 620.7,187 621.2,187 620.1,187.3 620.7,187.7 620.4,188.2 619.9,188.5 620.9,188.6 621.4,188.8 620.4,188.8 619.4,189 620.4,189.4 619.9,189.5 620.9,189.5 621.4,189.7 620.4,190.3 619.9,190.4 620.9,190.5 619.4,190.6 620.1,190.9 621.4,190.9 622,190.9 620.7,191.3 620.1,191.4 620.7,191.9 620.1,192 620.4,192.5 620.4,193.7 619.9,193.8 620.9,193.9 620.4,195.4 620.4,160.7 620.4,163.5"/>
<polyline class="sL" points="640.2,235.7 639.7,235.8 640.7,235.9 641.2,236.2 640.2,236.4 640.7,236.7 640.2,236.9 639.7,237.3 640.2,237.8 640.7,237.9 639.7,238 641.2,238.2 640.2,238.3 639.7,238.7 640.2,238.9 640.7,239 641.2,239.1 639.2,239.1 639.7,239.3 638.6,239.4 640.2,239.9 639.7,240.2 640.7,240.2 639.2,240.3 640.2,240.6 639.7,240.8 640.7,240.9 639.2,240.9 641.2,241 641.8,241 638.6,241.1 640.2,241.2 638.1,241.3 640.7,241.4 639.7,241.4 640.2,241.8 641.2,241.9 639.2,241.9 640.7,242 639.7,242.1 640.2,242.4 640.7,242.6 639.7,242.8 640.2,243.1 640.7,243.4 639.7,243.4 640.2,243.7 639.2,243.7 641.2,243.8 641.8,243.8 638.6,243.9 639.7,244 640.7,244 640.2,244.2 639.4,244.5 640.5,244.7 639.9,244.7 641,244.8 639.2,244.9 641.5,245 638.6,245 642,245.1 640.2,245.2 640.7,245.4 639.7,245.4 640.2,245.8 640.7,246 639.7,246 639.2,246.3 640.2,246.5 639.7,246.8 640.5,246.9 641,247 639.2,247.1 640.2,247.5 640.7,247.6 640.2,248 639.7,248 641,248.1 640.2,249.1 640.7,249.6 640.2,250.2 640.5,250.7 639.9,250.8 639.4,250.9 641,251.1 640.2,251.3 639.7,251.5 640.7,251.6 639.2,251.6 640.2,252.1 640.7,252.5 640.2,228.5 640.2,231.5 640.2,254.7"/>
<polyline class="cL" points="652.3,236.5 652.3,237.6 652.8,237.7 651.8,237.8 651.2,238 652.3,238.3 652.8,238.5 651.8,238.6 653.4,238.6 651.2,238.6 650.7,238.6 652.3,238.9 652.8,239.2 652,239.4 651.5,239.4 653.4,239.6 652.3,239.9 652.8,240.3 652,240.3 651.5,240.4 653.4,240.6 651,240.7 653.9,240.8 652.3,241 651.8,241.2 652.8,241.2 651.2,241.4 652.3,241.6 652.3,242.3 652.8,242.6 651.8,242.6 653.4,242.6 652.3,242.9 651.8,243.2 652.8,243.2 653.4,243.3 652.3,243.6 651.5,243.6 652.8,244 653.4,244 651,244 653.9,244 650.4,244 652.3,244.2 651.8,244.5 652.6,244.6 653.1,244.9 652.3,245.1 651.8,245.2 651.2,245.2 653.6,245.3 652.6,245.6 652,245.7 651.5,245.7 653.1,245.8 651,245.8 653.6,246 650.4,246.1 652.6,246.1 651.8,246.2 653.1,246.3 651.2,246.4 652.3,246.6 651.8,246.9 652.3,247.2 652.8,247.3 651.5,247.4 653.4,247.6 652.3,248.3 652.8,248.3 651.8,248.5 651.2,248.6 653.4,248.7 652.3,248.8 652.8,248.9 652.3,249.9 651.8,250 652.3,250.7 651.8,250.9 652.8,250.9 651.2,250.9 653.4,251.1 652.3,251.3 651.8,251.8 652.3,252.4 651.8,252.5 652.8,252.7 652.3,253.2 651.8,253.6 652.3,253.8 652.8,254.2 652.3,254.5 652.3,234 652.3,257.2"/>
<polyline class="sD" points="664.3,232.3 664.3,232.8 663.8,233.2 664.3,233.6 664.6,234.1 664,234.3 663.5,234.3 664.3,234.7 664.8,234.8 663.8,234.8 663.3,235 664.3,235.5 663.8,235.5 664.8,235.5 663.3,235.8 665.3,235.9 664,236 664.6,236 664.3,236.5 663.8,236.7 664.8,237 664.3,237.4 664.8,237.7 663.8,237.7 664.3,238 663.8,238.2 664.8,238.3 665.3,238.4 664.3,238.9 663.8,238.9 664.3,239.5 663.8,239.5 664.8,239.5 665.3,239.6 663.3,239.6 665.9,239.8 664.3,240 664.8,240.2 663.8,240.3 665.3,240.3 663.3,240.3 662.7,240.5 664.3,240.7 663.8,240.9 664.8,240.9 665.3,241 663.3,241 662.7,241.1 665.9,241.2 666.4,241.2 664.3,241.5 664.8,241.5 663.8,241.5 665.3,241.6 663.3,241.7 662.7,241.9 664.3,242.2 664.8,242.3 663.8,242.3 663.3,242.6 665.3,242.6 664.3,242.8 664.8,242.9 663.8,243.2 665.3,243.3 664.3,243.8 663.8,244 664.8,244.3 665.3,244.3 664.3,244.4 663.5,244.5 664.8,244.8 664,244.9 663.5,245.2 664.6,245.3 664,245.5 665.1,245.6 664.6,245.8 663.8,245.9 663.3,246 665.1,246.1 665.6,246.2 664.3,246.5 663.8,246.6 664.8,246.6 663.3,246.8 665.3,246.9 662.7,246.9 665.9,246.9 662.2,247 664.3,247.3 664.8,247.5 663.8,247.6 663.3,247.7 665.3,247.7 664.3,247.9 665.9,248 664.8,248.3 663.8,248.3 664.3,248.6 663.8,248.8 664.8,248.9 665.3,249 663.3,249.1 664.3,249.1 662.7,249.1 665.9,249.3 663.8,249.4 664.8,249.5 666.4,249.5 664.3,249.7 663.3,249.8 664.6,250.2 664,250.4 665.1,250.4 663.5,250.4 664.6,250.8 664,251.1 664.6,251.4 664,251.6 664.6,251.9 665.1,251.9 663.5,251.9 663,252 664,252.2 664.8,252.4 664.3,253.4 664.8,253.5 663.8,253.5 663.3,253.6 664.3,254.2 664.8,254.4"/>
<polyline class="cD" points="676.4,236.8 676,237.1 676.8,237.1 676.4,237.3 676,237.5 676.8,237.7 676.4,237.9 676,238 677.3,238.1 676.8,238.1 675.5,238.2 676.4,238.4 676,238.5 676.8,238.7 675.5,238.8 677.3,238.8 676.4,238.9 676,239 677.7,239 675.1,239 676.8,239.2 675.5,239.3 676.4,239.6 676.8,239.7 676.2,240 676.6,240.1 677,240.3 675.8,240.3 676.2,240.4 677.5,240.5 676.6,240.6 675.5,240.7 677,240.7 675.1,240.8 676.4,241 676.4,241.5 676,241.6 676.8,241.7 675.5,241.9 677.3,242 676.4,242.1 676,242.1 675.1,242.1 676.8,242.4 677.3,242.5 675.5,242.5 676.2,242.5 675.1,242.6 676.6,242.8 677,242.9 675.8,242.9 677.5,242.9 677.9,242.9 676.2,243 675.3,243 674.9,243 674.5,243 678.3,243.2 676.6,243.3 676.2,243.5 677,243.5 675.8,243.6 676.6,243.8 676.2,244 675.8,244.1 676.6,244.3 676.2,244.5 677,244.6 675.8,244.6 677.5,244.7 675.3,244.7 676.4,245.1 676.8,245.3 676.4,245.5 676,245.7 676.6,245.9 677,245.9 675.5,246 677.5,246 676.2,246.2 676.6,246.6 675.8,246.6 677,246.6 677.5,246.7 676.4,247 676.8,247.1 676,247.2 675.5,247.3 677.3,247.3 676.4,247.5 676.8,247.5 677.7,247.6 676,247.6 675.5,247.7 677.3,247.7 675.1,247.8 676.4,248 676.8,248 676.2,248.4 676.6,248.4 677,248.4 676.4,248.9 676.8,249 676,249.1 675.5,249.2 677.3,249.3 676.4,249.3 677.7,249.4 676,249.6 676.6,249.8 677,249.8 675.5,249.9 676.2,250 676.4,250.8 676.6,251.1 676.2,251.2 677,251.4 675.8,251.5 676.4,251.9 676,251.9 676.8,252 677.3,252.1 675.5,252.2 676.4,252.5 676,252.9 676.6,252.9 677,252.9 675.5,253.1 677.5,253.1 676.4,253.8 676.8,253.9 676.4,254.5 676.4,226.5 676.4,233.7 676.4,256.9"/>
<polyline class="cL" points="59.8,385.2 59.2,386.3 59.8,387.6 58.6,388.3 61,388.4 59.8,388.8 62.3,388.9 57.3,389.3 56.1,389.3 59.8,390.2 58.6,390.3 61,390.4 57.3,390.7 62.3,391.3 59.2,391.4 60.4,391.7 58,391.9 56.7,392 63.5,392.1 55.5,392.1 61.6,392.3 64.7,392.4 54.3,392.5 59.8,393 61,393.5 59.8,394.6 58.6,394.7 61,394.9 62.3,394.9 57.3,395 63.5,395.1 56.1,395.4 64.7,395.5 54.9,395.6 53.7,395.6 65.9,395.6 59.2,395.8 60.4,396.1 61.6,396.3 58.6,397 59.8,397.4 61,397.6 58.6,398.3 59.8,398.8 61,398.9 57.3,399.1 62.3,399.4 59.8,400.3 58.6,400.9 59.8,404 59.8,378.1"/>
<polyline class="cD" points="82.2,382.4 83.4,383.3 82.2,384.7 83.4,384.7 81,385.2 84.6,385.3 79.8,385.4 82.2,386.9 81,387.1 82.2,388.8 83.4,388.8 81,388.8 84.6,388.8 79.8,389 78.6,389.2 85.8,389.4 77.4,389.6 87,389.9 82.8,389.9 81.6,390.2 84,390.4 80.4,390.6 85.2,390.7 79.2,390.7 78,390.8 76.7,390.9 86.4,390.9 82.2,392.1 83.4,392.2 81,392.4 84.6,392.5 79.8,392.6 78.6,392.7 85.8,392.9 77.4,392.9 87,393 88.3,393 76.1,393.1 74.9,393.2 82.2,393.4 83.4,393.5 81,393.8 84.6,394 79.8,394 85.8,394.1 78.6,394.5 82.8,394.5 77.4,394.6 87,394.8 76.1,394.8 81.6,395 80.4,395.1 84,395.2 88.3,395.2 79.2,395.6 82.8,395.8 85.2,395.9 78,396.1 81.6,396.2 86.4,396.3 82.2,397.3 81,397.5 83.4,397.6 84.6,397.8 79.8,397.8 78.6,398.2 85.8,398.2 87,398.3 77.4,398.4 82.2,398.9 81,398.9 82.2,400.1 81,400.8 82.2,401.4 83.4,401.9 81,402.3 82.2,375.3 82.2,378.1 82.2,379.8"/>
<polyline class="cL" points="118.4,300 118.4,301.3 118.4,303.9 119.5,304.8 118.4,305.2 117.3,306 118.9,306.3 120,306.4 116.2,306.5 118.4,307.6 117.3,308 119.5,308.1 116.2,308.2 120.6,308.5 121.6,308.6 115.2,308.6 118.4,309 117.3,309.4 119.5,309.5 118.4,310.2 116.2,310.3 120.6,310.4 117.3,310.9 118.9,311.2 115.7,311.3 117.9,312 118.9,312.3 120,312.6 116.8,312.7 121.1,312.8 115.7,313 122.2,313 117.9,313.2 118.4,314.1 119.5,314.2 117.3,314.7 120.6,314.9 118.4,315.3 119.5,315.4 116.2,315.4 121.6,315.5 115.2,315.5 114.1,315.5 122.7,315.6 117.3,316.1 120.6,316.2 113,316.2 118.4,317 117.3,317.3 118.4,321.3"/>
<polyline class="cD" points="140.2,300 140.2,301.8 141.3,302.6 139.7,302.8 138.6,303.3 140.2,304.6 141.3,305.1 140.2,305.8 139.1,306 141.3,306.2 142.3,306.3 138.1,306.4 137,306.5 143.4,306.8 140.2,307.3 141.3,307.5 139.1,307.8 142.3,308.2 140.2,308.4 138.1,308.5 143.4,308.5 137,308.6 136,308.6 141.3,308.6 139.7,309.4 138.6,309.4 142.3,309.4 140.7,309.7 137.6,309.8 143.4,309.8 136.5,310.3 140.2,310.9 139.1,311 141.3,311.2 142.3,311.3 138.1,311.4 139.7,311.9 140.7,312.2 138.6,312.4 141.8,312.5 137.6,312.6 142.8,312.7 136.5,312.7 143.9,312.9 144.9,312.9 139.7,313 135.5,313.1 134.4,313.1 146,313.2 147,313.2 140.7,313.3 133.4,313.4 138.6,313.8 141.8,314 139.7,314.2 142.8,314.3 137.6,314.3 140.7,314.4 139.1,315.1 141.8,315.2 140.2,315.3 138.1,315.5 142.8,315.6 137,315.6 143.9,316 141.3,316.1 140.2,316.8 139.1,316.8 142.3,316.8 138.1,317.1 141.3,317.2 143.4,317.3 139.7,317.8 140.2,319.2 140.2,320.8 139.7,321.8"/>
<polyline class="sL" points="179.2,384.8 178.4,386.3 180,387.5 178.4,388 181.6,388.5 176.8,389 183.3,389 180,389.3 175.1,389.4 178.4,389.8 181.6,390.3 184.1,390.6 176.8,390.7 179.2,391.6 180.8,391.7 179.2,393.5 177.6,394 180.8,394.1 182.4,394.2 175.9,394.2 184.1,394.5 174.3,394.8 179.2,395.9 177.6,396.6 180.8,397.2 182.4,397.4 175.9,397.4 179.2,397.6 184.1,398.2 179.2,400.7 179.2,377.7"/>
<polyline class="cL" points="197.4,387.4 197.4,389.2 196.1,389.6 198,390.3 196.8,390.8 195.5,391.1 198,391.6 197.4,392.7 198.7,393.5 196.8,393.9 195.5,394 199.9,394.1 194.3,394.3 201.2,394.4 198,394.7 193,394.9 196.1,395.1 199.3,395.6 194.9,395.7 197.4,396.2 200.5,396.3 196.1,396.4 198.7,396.7 199.9,397.4 197.4,397.5 198.7,398 196.1,398.1 194.9,398.6 197.4,399.1 197.4,402.5 197.4,404.7"/>
<polyline class="sD" points="215.6,381.3 215.6,382.8 216.2,383.9 215,384.8 213.8,384.8 216.8,385 215.6,386.4 215.6,387.7 214.4,388.3 216.8,388.3 218,388.5 215.6,389.1 213.2,389.1 216.8,389.6 214.4,389.7 218,389.9 219.3,389.9 211.9,389.9 220.5,390 210.7,390.1 215.6,391 216.8,391.8 214.4,392.1 215.6,392.4 217.4,392.8 213.8,393.3 216.2,393.6 215,393.8 218,393.9 212.5,394 219.3,394.1 211.3,394.3 213.8,394.5 216.8,394.7 215.6,394.9 220.5,395 218,395.3 215,396.1 216.2,396.3 215.6,398.1 216.8,398.3 214.4,398.5 218,398.6 215.6,399.5 216.2,400.7"/>
<polyline class="cD" points="233.8,388.4 234.8,388.8 233.8,390.6 234.3,391.5 233.3,391.8 232.2,391.9 235.4,392 236.4,392.1 231.2,392.2 230.2,392.3 237.4,392.3 238.5,392.5 233.8,392.8 232.8,392.8 229.1,392.8 234.8,392.9 231.7,393.4 235.9,393.4 236.9,393.5 230.7,393.5 233.3,393.8 234.3,393.8 229.7,393.9 237.9,394.2 232.2,394.3 235.4,394.4 233.8,394.7 231.2,394.9 236.4,395 234.8,395.3 232.8,395.5 233.8,396.1 234.8,396.4 232.8,396.7 235.9,397.1 233.8,397.3 231.7,397.4 232.8,397.8 234.8,398.1 235.9,398.3 233.8,398.4 232.8,399 233.8,400.7 232.8,401.3 233.8,401.9 233.8,375.6 233.8,377.7 233.8,384.8"/>
<polyline class="sL" points="264,297.5 264,300.6 265.5,301.2 262.5,301.7 264,302.9 263.3,304.4 264.7,304.7 266.2,304.9 261.8,305.5 263.3,306 265.5,306.2 267,306.6 260.3,306.7 264,307.4 262.5,307.5 265.5,307.9 261,308.3 264,309 262.5,309 267,309.1 268.5,309.2 259.5,309.4 265.5,309.8 261,310.1 264,310.9 262.5,311.2 265.5,311.4 261,311.6 264,313.6 264,317"/>
<polyline class="cL" points="282.4,304.9 282.4,308.9 281,309.8 283.8,309.9 282.4,310.5 280.3,311.1 284.5,311.2 278.9,311.2 285.9,311.3 282.4,312.7 283.8,313.4 281,313.5 279.6,313.7 285.2,313.8 282.4,314.3 278.2,314.4 286.6,314.6 283.8,314.8 281,314.9 285.2,315.4 282.4,315.8 279.6,315.8 281,316.5 283.8,316.5 285.9,316.7 278.2,317 282.4,317.2 281,318.1 282.4,320.3 283.8,321.3"/>
<polyline class="sD" points="300.5,298.5 300.5,299.9 299.2,300.8 300.5,301.8 301.8,301.8 299.2,302.4 300.5,303.8 299.2,303.8 301.8,304.4 303.2,304.6 297.8,304.7 304.5,304.8 296.5,305 299.8,305 301.2,305.6 298.5,305.9 302.5,306.1 300.5,307.6 301.8,307.9 299.2,308 297.8,308.9 300.5,309.2 302.5,309.2 299.2,309.4 303.9,309.4 301.2,310.5 299.8,310.6 298.5,310.7 302.5,310.8 297.1,310.8 303.9,311.7 300.5,312.1 299.2,312.2 301.8,312.2 297.8,312.3 296.5,312.4 305.2,312.8 300.5,313.5 299.2,314.4 300.5,315.4 299.2,315.9 301.8,316 300.5,317 300.5,319.3 299.2,319.9"/>
<polyline class="cD" points="319.1,303.5 319.1,305.4 319.1,307.8 317.9,307.8 320.3,308 316.8,308.5 319.1,310.1 320.3,310.2 317.9,310.6 316.8,310.7 319.1,311.4 320.3,311.6 317.9,311.8 321.4,311.8 316.8,312 322.6,312.3 315.6,312.4 319.1,312.7 323.7,312.7 320.3,312.8 317.9,313 321.4,313 314.5,313.1 316.8,313.4 319.1,314.2 317.9,314.3 320.3,314.6 316.8,314.6 321.4,314.7 315.6,314.8 322.6,314.9 323.7,314.9 319.1,315.4 320.3,315.9 317.9,315.9 321.4,316.2 319.1,316.6 316.8,316.8 320.3,317.3 319.1,318.8 320.3,319.7 317.9,319.7 319.1,320.1 317.9,321 319.1,322 319.1,300.6"/>
<polyline class="sL" points="356.3,374.9 357.3,375 356.3,375.9 356.3,379.1 356.3,380 357.3,380.6 355.3,380.8 356.3,381.2 357.3,381.7 356.3,382.3 357.3,382.7 355.3,383.1 358.2,383.2 356.3,383.5 357.3,384.2 355.3,384.2 356.3,384.7 358.2,385 357.3,385.2 355.3,385.5 356.3,385.8 357.7,386.1 354.4,386.2 358.7,386.2 353.4,386.3 356.8,386.7 355.8,386.8 359.7,386.8 352.5,386.9 357.7,387.1 354.9,387.4 358.7,387.5 356.3,387.7 357.3,388.1 353.9,388.1 359.7,388.2 355.8,388.6 354.9,388.8 358.2,388.9 356.8,389.2 353.9,389.2 359.2,389.3 352.9,389.3 360.1,389.4 352,389.4 361.1,389.5 355.8,389.8 357.7,390 354.9,390 356.3,390.7 355.3,390.9 357.3,391 354.4,391.1 358.2,391.1 356.3,391.7 359.2,391.8 355.3,391.9 357.3,391.9 353.9,392 352.9,392 358.2,392.2 360.1,392.4 352,392.5 356.3,392.7 354.9,392.7 357.3,392.9 353.9,393 358.2,393.5 356.3,393.8 355.3,394.1 357.3,394.1 354.4,394.2 359.2,394.3 358.2,394.5 353.4,394.6 356.3,394.9 355.3,395.5 357.3,395.7 356.3,396.1 358.2,396.2 354.4,396.3 353.4,396.4 355.3,396.6 356.3,397.3 356.3,398.4 357.3,398.4 355.3,398.5 354.4,399 358.2,399 356.3,400.7 356.8,401.7 356.3,405 356.3,369.5"/>
<polyline class="cL" points="374.4,386 374.4,387.2 373.6,387.4 374.4,388.3 375.2,388.8 374.4,389.9 373.6,390 375.2,390.1 376,390.2 372.8,390.5 374.4,391.2 373.6,391.3 375.2,391.4 376,391.5 372.8,391.9 376.8,392 374.4,392.2 375.2,392.3 373.6,392.4 376,392.4 372,392.5 371.2,392.5 377.6,392.6 374.4,393.1 373.2,393.1 376.8,393.1 375.2,393.4 376,393.4 372.4,393.5 371.6,393.6 377.6,393.6 370.8,393.6 378.4,393.7 370,393.8 374.4,394.1 373.6,394.1 375.2,394.3 372.8,394.3 376,394.3 376.8,394.5 372,394.5 377.6,394.5 371.2,394.6 370.4,394.6 378.4,394.6 374.4,395.2 373.6,395.7 375.2,395.8 372.8,395.9 374.4,396.1 376,396.2 372,396.2 376.8,396.3 371.2,396.4 373.6,396.5 375.2,396.8 374.4,397 372.8,397.1 376,397.1 372,397.1 376.8,397.2 377.6,397.2 371.2,397.3 378.4,397.3 373.6,397.5 370.4,397.5 375.2,397.6 379.2,397.7 374.4,398.3 373.2,398.3 376,398.3 372.4,398.3 376.8,398.4 371.6,398.4 375.2,398.5 377.6,398.7 370.8,398.8 378.4,398.9 374.4,399.1 373.6,399.2 372.8,399.2 375.2,399.4 376,399.6 374,399.9 373.2,400.1 374.8,400.3 374,400.9 374.4,401.7 374.4,403.2 375.2,403.4 373.6,403.9 374.4,404.4 374.4,375.3 374.4,380.6"/>
<polyline class="sD" points="392.5,374.9 391.6,375.4 392.5,377.4 391.6,378 392.5,378.8 392.5,379.8 391.6,380.5 393.4,380.5 392.5,381 394.3,381.1 390.7,381.3 395.2,381.4 392,381.8 393,381.8 393.9,381.9 391.1,382.5 392.5,383.6 391.6,384.3 393.4,384.3 392.5,384.5 390.7,384.6 394.3,384.6 389.8,385.1 395.2,385.1 393.4,385.3 392,385.4 391.1,385.4 388.8,385.4 396.2,385.5 394.3,385.6 390.2,386 393,386.2 392,386.3 395.2,386.3 391.1,386.6 393.9,386.6 389.3,386.6 396.2,386.8 390.2,387 388.4,387 393,387.1 392,387.2 391.1,387.6 392.5,388.2 393.4,388.2 394.3,388.3 390.2,388.3 391.6,388.7 395.2,388.9 392.5,389.2 393.4,389.6 391.1,389.6 394.3,389.6 390.2,389.6 389.3,389.7 392,390 395.2,390.1 396.2,390.2 388.4,390.3 393,390.4 391.1,390.8 393.9,390.9 392,391 390.2,391.1 394.8,391.1 389.3,391.3 393,391.6 395.7,391.7 388.4,391.7 391.6,391.9 393.9,392.1 390.7,392.1 394.8,392.2 389.8,392.3 396.6,392.4 392.5,392.5 388.8,392.5 395.7,392.6 387.9,392.6 391.6,392.9 393.4,393.1 394.3,393.2 390.7,393.2 389.8,393.3 392.5,393.4 395.2,393.4 388.8,393.8 396.2,393.8 397.1,393.8 393.4,394.2 392.5,394.4 391.6,394.6 394.3,394.7 390.7,394.7 389.8,394.7 395.2,394.8 396.2,394.8 388.8,394.9 397.1,394.9 387.9,394.9 392.5,395.5 391.6,395.7 393.4,395.9 390.7,396.1 394.3,396.1 392.5,396.6 391.6,396.9 393.4,397.3 392.5,398.1 391.6,398.6 393.4,398.6 390.7,398.6 394.3,399 392.5,399.1 395.2,399.2 391.1,399.4 393.4,399.7 390.2,399.7 389.3,399.8 396.2,399.9 392.5,400.1 391.6,400.3 393.9,400.5 390.7,400.7 393,400.9 394.8,401 392,401.2 391.1,401.7 393,401.9 393.9,401.9 392.5,403.4 392.5,405 392.5,366.4"/>
<polyline class="cD" points="410.9,385.5 410.9,386.3 411.5,386.5 410.3,386.6 410.9,387 410.3,387.4 411.2,387.6 410.9,388.2 411.5,388.5 410.3,388.6 412.2,388.6 410.9,388.9 409.6,388.9 412.8,389 411.5,389.2 410.3,389.2 409,389.3 412.2,389.5 410.9,389.6 409.6,389.7 412.8,389.8 411.5,390 410.3,390 412.2,390.2 410.9,390.2 409,390.3 413.2,390.4 409.6,390.5 410.9,390.9 410.3,390.9 411.5,391 409.6,391.3 412.2,391.3 409,391.4 412.8,391.4 413.5,391.5 410.9,391.7 410.3,391.7 411.5,391.8 408.3,391.8 409.6,391.9 410.9,392.3 412.2,392.3 409,392.4 410.3,392.4 411.5,392.7 409.6,392.7 412.8,392.8 408.3,392.9 413.5,392.9 414.1,392.9 407.7,392.9 414.8,392.9 410.9,393 412.2,393 409,393 410.3,393.1 407,393.1 406.4,393.3 411.5,393.3 409.6,393.4 415.4,393.4 405.7,393.4 412.8,393.4 413.5,393.6 410.9,393.8 410.3,393.8 411.9,393.9 409.6,394.1 412.5,394.3 410.6,394.4 411.2,394.4 409,394.5 413.2,394.5 408.3,394.6 413.8,394.6 411.9,394.6 409.9,394.9 412.5,394.9 410.9,395.1 409.3,395.1 411.5,395.2 408.6,395.2 413.2,395.3 413.8,395.3 408,395.3 407.3,395.4 410.3,395.5 412.2,395.6 409.6,395.7 411.2,395.7 409,395.8 412.8,395.9 410.6,396.1 408.3,396.2 411.2,396.5 411.9,396.6 410.3,396.7 410.9,397.3 411.5,397.3 410.3,397.4 409.6,397.7 412.2,397.7 410.9,397.9 410.3,398.2 411.5,398.3 412.5,398.3 409.6,398.3 409,398.4 413.2,398.4 408.3,398.5 410.9,398.7 411.9,398.8 410.3,399 409.6,399 412.5,399 408.6,399.1 410.9,399.5 411.5,399.6 409.9,399.6 412.2,399.7 409.3,399.8 412.8,399.8 408.6,399.9 410.9,400.3 410.3,400.5 411.5,400.7 412.2,400.8 410.9,401.1 411.5,401.5 410.3,401.5 410.9,402.6 410.9,373.5 410.9,376.2 410.9,378.9 410.9,381.6 410.9,384"/>
<polyline class="sL" points="441.3,307.7 441.7,308.6 440.9,309.1 442.6,309.2 441.7,309.8 440,309.8 440.9,310.3 441.7,311.1 440.9,311.9 442.2,312 440,312.1 443.1,312.2 439.1,312.3 444,312.4 438.2,312.5 444.9,312.5 441.3,312.7 440.4,313 442.2,313.2 443.1,313.4 439.5,313.5 441.3,313.7 444,313.8 440.4,314.1 442.2,314.1 439.1,314.3 443.1,314.3 438.2,314.4 444.9,314.5 441.3,314.6 437.3,314.7 444,314.8 445.8,314.8 440,314.9 436.4,314.9 442.2,315.2 440.9,315.4 443.1,315.6 439.1,315.7 444,315.8 440,315.9 441.7,316 438.2,316.2 444.9,316.2 437.3,316.2 445.8,316.3 436.4,316.3 440.9,316.4 442.6,316.7 439.5,316.7 443.5,316.9 441.7,317 438.6,317.1 440.9,317.3 444.4,317.3 437.7,317.4 445.3,317.4 442.6,317.7 440,317.8 441.7,318 443.5,318.1 439.1,318.1 440.9,318.2 438.2,318.3 444.4,318.5 440,318.8 442.2,318.9 443.1,318.9 445.3,319 441.3,319.1 439.1,319.4 444,319.4 440.4,319.8 441.7,319.9 442.6,320.3 439.5,320.5 440.9,320.6 441.7,321 443.1,321 444,321.3 438.6,321.3 440.9,321.8 441.7,321.9 440,322 442.6,322.1 443.5,322.3 441.3,323 440.4,323.7 441.3,324 442.2,324.4 439.5,324.4 441.3,326.2 441.3,300.9 441.3,303.2 441.3,305.5 441.3,330.2"/>
<polyline class="cL" points="459.4,304.9 459.9,305.8 458.9,306.2 460.8,306.6 458,306.7 459.4,307.1 457.1,307.2 461.7,307.3 460.3,307.4 458.5,307.8 456.2,307.9 459.4,308 457.6,308.1 460.8,308.3 461.7,308.4 462.6,308.7 458.5,308.8 459.4,308.9 457.1,308.9 456.2,309 460.3,309.1 461.2,309.2 455.3,309.3 462.1,309.5 463,309.5 458,309.6 463.9,309.7 454.4,309.7 458.9,309.8 457.1,309.9 456.2,309.9 459.9,310.3 460.8,310.3 461.7,310.4 462.6,310.5 458.5,310.6 463.5,310.6 457.6,310.8 456.7,310.8 455.8,311.1 459.4,311.1 460.3,311.2 461.2,311.3 462.1,311.5 458.5,311.6 457.1,311.7 463,311.8 456.2,311.9 459.4,312.1 460.3,312.1 455.3,312.2 461.2,312.4 458.5,312.5 457.6,312.6 462.1,312.7 456.7,312.8 463,312.8 459.4,313 460.3,313.2 455.8,313.2 458.5,313.7 459.4,314 460.3,314.1 457.6,314.2 461.2,314.2 456.7,314.2 462.1,314.3 455.8,314.4 458.5,314.7 463,314.8 459.4,314.9 460.8,315 457.6,315.2 461.7,315.2 456.7,315.3 458.9,315.7 459.9,316 460.8,316 458,316.1 461.7,316.5 457.1,316.6 459.4,316.8 458.5,317.1 460.3,317.3 461.2,317.4 459.4,317.7 457.6,317.9 462.1,318 458.5,318.3 460.3,318.3 459.4,318.8 459.4,321.2 459.4,298.5 459.4,301.5"/>
<polyline class="sD" points="477.8,301.3 477.8,303.5 476.9,303.8 477.8,304.7 476.9,305.1 477.8,306.3 476.9,306.6 477.8,307.3 476.9,307.9 478.7,307.9 477.8,308.3 477.8,309.3 478.7,309.4 476.9,309.7 476,309.7 479.6,309.9 477.8,310.3 478.7,310.4 475.1,310.4 480.5,310.4 476.9,310.7 476,310.7 474.2,310.7 481.4,310.8 479.6,311 477.8,311.4 478.7,311.4 475.1,311.4 476.4,311.5 480.1,311.9 481,311.9 477.8,312.7 476.9,312.7 478.7,312.8 476,312.8 479.6,312.9 475.1,313.1 480.5,313.3 474.2,313.5 477.8,313.7 476.9,313.8 478.7,314 479.6,314.3 476,314.5 475.1,314.6 477.3,314.6 480.5,314.6 481.4,314.8 474.2,314.8 478.3,314.9 473.3,314.9 482.3,315.1 477.3,315.6 478.3,315.8 476.4,315.9 479.2,315.9 480.1,316.4 477.8,316.7 478.7,316.7 476.9,316.9 476,317 475.1,317 481,317.1 474.2,317.1 479.6,317.3 481.9,317.3 477.8,317.7 478.7,317.7 476.4,317.8 473.3,317.8 475.5,318 480.5,318 474.6,318.2 479.6,318.4 477.3,318.5 481.4,318.5 478.3,318.6 476.4,318.7 473.7,318.7 475.5,319 480.5,319.2 479.2,319.3 477.8,319.4 474.6,319.4 476.9,319.6 481.4,319.7 473.7,319.8 476,319.9 480.1,320 482.3,320.1 472.8,320.1 478.7,320.2 477.8,320.6 476.9,320.7 475.5,320.7 479.2,321 480.1,321 481,321 474.6,321.2 481.9,321.2 473.7,321.3 477.8,321.6 476.9,321.7 478.7,321.7 476,321.9 479.6,321.9 480.5,321.9 475.1,322 481.4,322.3 477.3,322.5 478.3,322.7 476.4,322.7 479.2,322.8 475.5,323 480.1,323.1 477.8,323.5 476.9,323.6 478.7,323.6 481,323.8 476,323.9 477.8,324.5 476.9,324.9 478.7,325.2 479.6,325.4 477.8,325.4 476,325.4 480.5,325.6 478.3,326.3 477.8,327.5 476.9,327.6 477.8,329.2 478.7,329.7"/>
<polyline class="cD" points="495.7,302.5 495.7,304.7 495,305.2 496.4,305.2 494.4,305.3 495.7,305.4 497,305.5 497.7,305.7 495,305.9 495.7,306.2 496.4,306.5 495,306.7 497,306.8 494.4,306.8 495.7,307.3 496.4,307.3 495,307.5 494.4,307.6 497,307.7 493.7,307.8 497.7,307.8 495.7,308 496.4,308.1 493.1,308.2 495,308.3 495.7,309.4 495,309.5 496.4,309.7 497,309.8 494.4,309.9 493.7,309.9 497.7,309.9 493.1,310 498.3,310 495.7,310.2 495,310.3 492.4,310.3 496.4,310.4 494.4,310.6 497,310.8 495.7,310.9 493.7,310.9 497.7,310.9 495,311 496.4,311.2 493.1,311.2 494.4,311.4 495.7,311.6 495,311.8 496.4,311.8 497,311.9 494.1,312 497.7,312 493.4,312.1 498.3,312.2 492.8,312.2 499,312.2 492.1,312.2 495.7,312.3 494.7,312.4 499.6,312.5 496.7,312.5 491.5,312.5 497.3,312.6 494.1,312.7 500.3,312.7 498,312.7 493.4,312.8 498.6,312.9 496,312.9 495.4,313 492.8,313 492.1,313 494.7,313.1 496.7,313.2 499.3,313.2 491.5,313.2 497.3,313.3 494.1,313.3 499.9,313.3 498,313.5 495.7,313.6 493.4,313.6 495,313.7 492.8,313.7 496.4,313.8 497,313.9 494.4,313.9 498.6,314 497.7,314.1 495.7,314.4 495,314.7 496.4,314.8 494.4,314.9 495.7,315.1 497,315.2 493.7,315.2 497.7,315.3 493.1,315.3 495,315.5 496.4,315.5 494.4,315.7 498.3,315.7 495.7,315.9 497,315.9 493.7,315.9 497.7,316.1 495.7,316.6 495,317 496,317.2 496.7,317.3 494.4,317.3 497.3,317.4 493.7,317.5 495.7,318.1 495,318.2 495.7,318.8 496.4,319.1 495,319.3 495.7,319.8 496.4,320 495,320 497,320.2 495.7,320.6 494.4,320.6 496.4,320.6 495,321 497,321 495.7,321.9 495.4,322.5 496,322.6 495.7,323.6 495.7,300.3"/>
<polyline class="sL" points="532.8,385.5 532.8,386.6 532.8,388.5 533.7,388.7 531.9,389.1 534.5,389.1 531.1,389.2 535.4,389.2 530.2,389.4 532.8,389.5 533.7,390.2 531.9,390.2 534.5,390.2 532.8,390.4 531.1,390.5 530.2,390.6 535.4,390.6 529.3,390.7 536.3,390.7 534.1,391 532.8,391.3 531.9,391.3 535,391.4 531.1,391.5 530.2,391.5 535.8,391.5 533.7,391.8 529.3,391.9 536.7,391.9 528.5,392 532.8,392.1 531.9,392.2 534.5,392.2 531.1,392.5 535.4,392.5 530.2,392.6 533.7,392.8 529.3,392.8 536.3,392.8 537.1,392.9 532.8,393.1 531.9,393.2 534.5,393.3 528.5,393.3 531.1,393.4 530.2,393.5 533.7,393.7 535.4,393.7 536.3,393.8 532.8,394.3 531.9,394.5 534.1,394.5 531.1,394.6 535,394.6 530.2,394.6 535.8,394.8 533.2,395.1 529.3,395.2 536.7,395.2 532.4,395.4 534.1,395.4 531.5,395.5 530.6,395.5 535,395.6 528.5,395.7 535.8,395.7 537.6,395.7 529.8,396 532.8,396.2 531.9,396.3 533.7,396.5 532.8,397.2 531.9,397.3 534.1,397.4 531.1,397.8 535,397.8 530.2,397.9 532.4,398.1 533.2,398.3 534.1,398.4 535.8,398.5 531.9,398.9 531.1,398.9 532.8,400 533.7,400.2 531.9,400.4 534.5,400.7 532.8,400.9 532.8,402.1 532.8,403.4 533.7,403.4 532.8,405 532.8,376.3 532.8,378.2 532.8,383.4"/>
<polyline class="cL" points="550.8,387 550.8,387.8 550.8,388.9 551.5,388.9 550.1,389.1 551.2,389.6 550.4,389.8 549.7,390.1 551.9,390.1 550.8,390.6 552.6,390.6 551.5,390.8 550.1,390.8 549.3,391 550.8,391.4 551.9,391.4 550.1,391.6 552.6,391.6 549,391.7 548.2,391.7 553.4,391.8 550.8,392.3 551.5,392.3 550.1,392.6 552.3,392.6 549.3,392.8 550.8,393.1 551.5,393.2 553,393.2 548.6,393.2 547.8,393.3 553.8,393.3 554.5,393.3 550.1,393.4 552.3,393.4 547.1,393.5 555.2,393.5 549.3,393.7 546.4,393.7 550.8,393.8 551.5,394.1 550.1,394.4 552.3,394.5 549.3,394.5 548.6,394.6 550.8,394.7 551.5,394.9 550.1,395.3 552.3,395.3 549.3,395.3 548.6,395.4 553,395.4 550.8,395.5 553.8,395.5 547.8,395.6 547.1,395.6 551.5,395.8 554.5,395.8 555.2,395.9 546.4,396 550.8,396.3 550.1,396.4 551.5,396.7 552.3,396.8 549.3,396.8 553,396.9 550.8,397 550.1,397.3 551.9,397.5 549.3,397.7 551.2,397.8 552.6,397.9 550.4,398 548.6,398.1 551.9,398.2 551.2,398.6 550.4,398.9 549.7,399 551.5,399.3 552.3,399.3 550.8,399.8 550.1,399.8 549.3,399.8 550.8,400.8 551.5,400.8 550.8,402.1 550.1,402.2 551.5,402.3 549.3,402.6 550.8,403.1 550.8,404.3 550.1,404.7 550.8,377 550.8,383.4"/>
<polyline class="sD" points="569,378.4 569,380 569.7,380.1 568.3,380.3 567.6,380.5 569,380.8 569,381.7 568.3,381.8 569.7,382.1 570.4,382.3 569,383.2 569,384 569.7,384.3 568.3,384.3 567.6,384.4 570.4,384.6 569,384.7 571.1,384.7 569.7,385 568.6,385.4 567.9,385.5 569,386 568.6,386.7 569,387.5 568.3,387.9 569.7,388 569,388.5 570.4,388.5 567.6,388.5 568.3,388.7 569.4,389.1 568.6,389.3 570.1,389.7 567.9,389.8 567.2,389.8 570.8,389.8 569,390.3 568.3,390.5 569.7,390.5 570.4,390.7 567.6,390.7 571.1,390.7 569,391.5 568.3,391.6 569.7,391.9 570.4,392 567.6,392.1 571.1,392.1 568.6,392.2 566.9,392.2 566.2,392.4 571.8,392.4 572.5,392.4 569.4,392.5 565.5,392.6 573.2,392.6 570.1,392.7 568.3,392.8 567.6,393.1 569,393.1 570.8,393.2 566.9,393.2 571.5,393.3 569.7,393.3 566.2,393.4 572.2,393.5 568.3,393.6 569,393.9 570.1,394 567.6,394.1 570.8,394.2 566.9,394.2 571.5,394.3 566.2,394.3 572.2,394.3 568.3,394.5 565.5,394.5 569.4,394.6 572.9,394.6 564.8,394.6 573.6,394.7 564.1,394.7 570.1,394.7 567.6,395 569,395.3 568.3,395.3 570.8,395.3 566.9,395.3 571.5,395.3 569.7,395.6 567.6,395.7 566.2,395.8 568.6,395.9 570.4,395.9 566.9,396.1 571.1,396.1 569.4,396.2 571.8,396.2 567.9,396.4 565.8,396.5 568.6,396.7 569.4,396.9 570.1,396.9 567.2,397 567.9,397.1 570.8,397.4 568.6,397.5 571.5,397.5 569.4,398 569,398.7 569.7,399.1 568.3,399.1 570.4,399.1 567.6,399.3 566.9,399.3 571.1,399.4 569,399.6 571.8,399.7 570.1,399.8 566.2,399.8 568.3,400 567.6,400 569,400.6 568.3,400.8 569.7,400.9 569,401.5 568.3,401.8 569,403.1 568.3,403.1 569.7,403.6 569,404.7 568.6,405.4 569,372"/>
<polyline class="cD" points="587.4,382.7 588.1,383.1 587,383.4 586.3,383.5 587.8,383.7 588.5,383.9 587.4,385.1 586.7,385.5 588.1,385.6 587.4,386.4 588.1,386.6 587.4,387.2 586.7,387.4 587.4,388.1 588.1,388.2 586.7,388.4 588.9,388.5 585.9,388.7 587.4,389.1 586.7,389.1 588.1,389.1 589.2,389.2 585.2,389.3 590,389.4 585.9,389.6 584.4,389.6 587.4,389.9 588.1,389.9 586.7,390.2 588.9,390.2 585.2,390.2 589.6,390.2 590.4,390.2 585.9,390.4 587.4,390.8 588.1,390.9 586.7,391 588.9,391 589.6,391 585.2,391.1 590.4,391.2 585.9,391.4 587.4,391.8 588.1,391.8 586.7,391.8 588.9,392 585.6,392.1 589.6,392.2 584.8,392.2 590.4,392.3 584.1,392.4 587.4,392.5 588.1,392.5 586.7,392.7 585.9,392.8 588.9,393 589.6,393 585.2,393 590.4,393.1 587.4,393.3 588.1,393.4 586.7,393.4 584.4,393.5 585.9,393.6 588.9,394 587.4,394.1 589.6,394.1 588.1,394.2 586.7,394.3 585.9,394.4 585.2,394.4 590.4,394.4 584.4,394.5 583.7,394.5 591.1,394.6 583,394.6 591.8,394.7 592.6,394.7 588.9,394.8 582.2,394.8 587.4,395 586.7,395.1 588.1,395.4 588.9,395.5 585.9,395.5 589.6,395.6 587.4,395.9 586.7,395.9 585.2,396.1 588.1,396.2 588.9,396.3 585.9,396.3 589.6,396.3 590.4,396.5 587,396.6 585.2,396.8 587.8,396.9 584.4,396.9 586.3,397 588.5,397 589.2,397.2 590,397.2 590.7,397.3 587,397.5 585.6,397.5 587.8,397.7 588.5,397.9 586.3,397.9 589.2,398 590,398 584.8,398 590.7,398.2 587.4,398.4 588.1,398.6 586.7,398.7 585.9,398.7 588.9,399 587.4,399.4 586.7,399.5 588.1,400 585.9,400.1 587.4,400.4 586.7,400.4 588.1,400.8 588.9,400.8 585.9,400.9 589.6,401 587,401 587.8,401.6 587,401.9 588.5,402.1 587.4,403.3"/>
<polyline class="sL" points="617.7,301.3 617.7,302.1 618.5,302.4 617.7,305.4 616.9,305.7 618.5,306 617.7,306.5 616.9,306.6 619.4,306.6 617.7,307.6 616.9,307.7 618.5,308 617.7,308.6 618.5,309.2 617.3,309.4 616.5,309.8 619.4,309.9 618.1,310 615.6,310.1 620.2,310.2 614.8,310.2 621,310.2 617.3,310.4 614,310.4 621.9,310.5 613.1,310.6 618.5,310.8 616.5,310.8 619.4,311 615.6,311 617.7,311.1 616.9,311.6 618.5,311.7 619.8,311.7 616,311.9 617.7,312.1 615.2,312.3 620.6,312.4 616.9,312.4 618.9,312.5 614.4,312.5 619.8,312.6 621.4,312.7 616,312.8 613.5,312.8 617.7,313.1 615.2,313.1 622.3,313.1 618.5,313.4 616.9,313.4 619.4,313.5 620.2,313.5 616,313.7 614.4,313.7 621,313.9 617.7,313.9 615.2,314 621.9,314 613.5,314 622.7,314.1 618.5,314.4 616.9,314.5 616,314.5 617.7,314.8 619.4,314.9 620.2,314.9 615.2,315 614.4,315.1 621,315.2 618.5,315.3 616.9,315.5 616,315.5 617.7,315.6 619.8,315.7 613.5,315.7 615.2,315.9 620.6,316 617.3,316.5 618.1,316.5 616.5,317 618.9,317 619.8,317.2 615.6,317.2 617.7,318.1 616.9,318.6 618.5,318.7 617.7,319.9 618.5,320.6 617.7,321.2 618.5,321.7 617.7,322.3 617.7,324.8"/>
<polyline class="cL" points="635.7,296.4 635.7,299.2 635.7,300.2 636.6,300.9 635.7,301.4 634.8,301.4 635.7,303.8 634.8,303.9 636.6,304.3 637.5,304.5 633.9,304.5 638.4,304.7 635.2,304.7 633,304.8 636.2,305.1 634.3,305.5 637.1,305.6 635.2,305.6 633.4,305.7 638,305.7 632.5,305.9 638.9,305.9 631.6,306.1 636.2,306.2 639.8,306.2 635.7,307.1 636.6,307.4 634.8,307.8 637.5,308 635.7,308 633.9,308.2 636.6,308.5 638.4,308.6 633,308.7 635.7,309.2 634.8,309.2 633.9,309.3 637.5,309.3 639.4,309.4 636.6,309.6 638.4,309.7 633,309.8 632,309.9 640.3,310 635.7,310.2 634.8,310.4 636.6,310.8 637.5,310.9 633.9,311 638.4,311 635.7,311.1 633,311.2 632,311.3 634.8,311.4 639.4,311.6 631.1,311.6 640.3,311.6 636.6,311.7 637.5,311.8 633.9,312 635.7,312 638.4,312.1 634.8,312.6 633,312.6 636.6,312.7 635.7,313.1 634.3,313.4 637.1,313.5 633.4,313.9 635.2,313.9 636.2,314.1 638,314.2 634.3,314.4 635.7,314.9 636.6,315 637.5,315 633.4,315.1 634.8,315.4 638.4,315.6 632.5,315.8 635.7,316 636.6,316.2 634.3,316.3 635.7,316.9 634.8,317.3 636.6,317.4 633.9,317.7 635.7,319 636.6,319 635.7,321.4 634.8,322 635.7,323.1"/>
<polyline class="sD" points="654,302.3 654,303.3 653.2,303.6 654,304.3 654.8,304.8 654,305.4 654.8,305.6 654,306.5 654.8,306.7 653.2,306.8 652.5,306.9 654,307.4 654.8,307.6 653.2,307.9 655.5,308.1 654,308.4 653.2,309.1 654,309.2 654.8,309.5 652.5,309.5 655.5,309.6 656.3,309.8 653.2,309.8 651.7,309.8 654,310 657,310.2 654.8,310.3 652.9,310.5 655.5,310.6 652.1,310.7 653.6,310.7 656.3,310.8 651.3,310.9 657.4,310.9 650.6,310.9 654.4,311.1 653.2,311.4 655.1,311.5 654,311.8 652.5,311.9 655.9,312 653.2,312.1 654.8,312.4 651.7,312.5 656.7,312.5 654,312.6 651,312.6 657.4,312.6 650.2,312.6 658.2,312.6 655.5,312.7 652.5,312.7 649.4,312.8 653.2,313 658.9,313 648.7,313 654.8,313.1 651.7,313.3 654,313.5 655.5,313.5 652.5,313.6 656.3,313.7 654.8,314 653.2,314 651.3,314 657,314.2 654,314.4 655.5,314.6 654.8,314.8 653.2,315 654,315.2 652.5,315.2 655.9,315.3 651.7,315.4 655.1,315.5 656.7,315.5 653.2,315.7 651,315.8 657.4,315.8 654.4,315.9 650.2,315.9 658.2,316 652.5,316 655.5,316.2 656.3,316.2 651.7,316.3 653.6,316.5 654.8,316.6 652.9,316.7 651,316.8 657,316.9 655.5,317 654,317.1 652.1,317.2 656.3,317.2 657.8,317.3 653.2,317.4 654.8,317.5 651.3,317.5 650.6,317.5 649.8,317.6 658.6,317.6 657,317.6 649.1,317.8 655.5,317.9 652.5,317.9 654,318 653.2,318.3 654.8,318.3 656.3,318.5 651.7,318.5 652.5,318.7 654,318.8 655.5,318.9 657,318.9 651,319 653.2,319.1 654,319.9 654.8,319.9 653.2,320.1 652.5,320.3 655.5,320.3 651.7,320.6 654.4,320.6 656.3,320.7 653.6,320.9 652.9,321 654,321.8 653.2,322.3 654,322.6 654,323.7 654.8,324.1 654,328.8"/>
<polyline class="cD" points="672.2,297.1 672.2,298.6 672.6,299.4 672.2,300.5 671.4,300.7 673,301.2 672.2,302.1 673,302.4 671.8,302.8 671,302.8 672.6,303.3 671.8,303.9 672.6,304.2 673.4,304.3 671,304.3 674.3,304.4 670.1,304.6 675.1,304.7 672.2,305.3 673,305.5 671.4,305.8 670.5,305.9 673.9,306 672.2,306.4 673,306.4 674.7,306.5 669.7,306.6 671.4,306.7 668.9,306.7 670.5,306.7 673.9,306.9 675.5,307 676.4,307.1 672.2,307.4 671.4,307.5 673,307.5 670.5,307.8 673.9,308.1 669.7,308.2 672.2,308.4 673,308.5 671.4,308.5 674.7,308.5 675.5,308.6 670.5,308.8 673.9,309 669.7,309.1 668.9,309.1 676.4,309.2 672.2,309.5 671.4,309.6 673,309.7 673.9,310.1 672.2,310.4 671,310.4 670.1,310.5 674.7,310.5 673,310.6 669.3,310.6 675.5,310.8 668.5,310.8 676.4,310.9 673.9,311.1 667.6,311.1 671.8,311.1 677.2,311.2 672.6,311.3 671,311.4 670.1,311.4 674.7,311.4 669.3,311.5 666.8,311.6 675.5,311.7 673.4,311.8 668.5,311.8 676.4,311.9 667.6,311.9 671.8,312 672.6,312.2 671,312.5 673.4,312.7 674.3,312.7 670.1,312.8 675.1,312.8 671.8,312.9 669.3,313 668.5,313 675.9,313 672.6,313.4 671,313.5 673.4,313.6 670.1,313.6 671.8,313.7 674.3,313.8 675.1,313.9 669.3,314 675.9,314 668.5,314.1 672.2,314.5 671.4,314.6 673,314.6 673.9,314.7 670.5,315 674.7,315.2 671.8,315.3 672.6,315.5 671,315.8 672.2,316.4 673,316.5 671.4,316.6 670.5,317 673.9,317.2 672.2,317.5 671.4,318 672.2,318.5 673,318.5 673.9,318.5 670.5,318.6 674.7,318.8 671.4,318.9 669.7,319 675.5,319.1 672.6,319.2 673.4,319.2 670.5,319.5 674.3,319.5 671.8,319.9 672.6,320.4 671.8,321 673.4,321 672.2,321.8 672.2,323.6"/>
<g stroke="#0d0d0d" stroke-width="0.85" fill="none">
<line x1="50.90" y1="104.40" x2="69.70" y2="104.40"/>
<line x1="72.90" y1="100.30" x2="91.50" y2="100.30"/>
<line x1="109.80" y1="70.20" x2="127.40" y2="70.20"/>
<line x1="131.60" y1="61.50" x2="149.60" y2="61.50"/>
<line x1="171.30" y1="106.60" x2="186.50" y2="106.60"/>
<line x1="189.70" y1="102.40" x2="204.70" y2="102.40"/>
<line x1="207.90" y1="100.30" x2="222.70" y2="100.30"/>
<line x1="226.10" y1="100.30" x2="241.10" y2="100.30"/>
<line x1="256.40" y1="70.40" x2="271.40" y2="70.40"/>
<line x1="274.30" y1="69.60" x2="289.70" y2="69.60"/>
<line x1="292.60" y1="61.50" x2="308.00" y2="61.50"/>
<line x1="311.20" y1="61.90" x2="326.20" y2="61.90"/>
<line x1="347.80" y1="107.40" x2="361.60" y2="107.40"/>
<line x1="364.60" y1="103.40" x2="378.40" y2="103.40"/>
<line x1="381.60" y1="104.40" x2="395.40" y2="104.40"/>
<line x1="398.20" y1="100.90" x2="412.00" y2="100.90"/>
<line x1="524.00" y1="102.00" x2="538.20" y2="102.00"/>
<line x1="541.00" y1="106.30" x2="554.80" y2="106.30"/>
<line x1="558.00" y1="99.40" x2="572.00" y2="99.40"/>
<line x1="574.80" y1="101.70" x2="588.60" y2="101.70"/>
<line x1="49.10" y1="224.30" x2="61.10" y2="224.30"/>
<line x1="63.50" y1="222.80" x2="75.50" y2="222.80"/>
<line x1="86.40" y1="184.50" x2="98.40" y2="184.50"/>
<line x1="101.30" y1="180.30" x2="113.30" y2="180.30"/>
<line x1="125.10" y1="244.40" x2="137.30" y2="244.40"/>
<line x1="139.50" y1="244.40" x2="151.70" y2="244.40"/>
<line x1="169.80" y1="226.20" x2="179.40" y2="226.20"/>
<line x1="181.80" y1="223.80" x2="191.40" y2="223.80"/>
<line x1="194.00" y1="223.80" x2="203.60" y2="223.80"/>
<line x1="206.00" y1="222.80" x2="215.60" y2="222.80"/>
<line x1="226.00" y1="186.80" x2="235.60" y2="186.80"/>
<line x1="237.90" y1="182.90" x2="247.50" y2="182.90"/>
<line x1="250.10" y1="181.90" x2="259.70" y2="181.90"/>
<line x1="262.00" y1="179.00" x2="271.60" y2="179.00"/>
<line x1="282.00" y1="246.10" x2="291.60" y2="246.10"/>
<line x1="293.80" y1="243.80" x2="303.40" y2="243.80"/>
<line x1="305.90" y1="244.10" x2="315.50" y2="244.10"/>
<line x1="318.00" y1="244.40" x2="327.60" y2="244.40"/>
<line x1="347.10" y1="220.20" x2="356.70" y2="220.20"/>
<line x1="359.10" y1="226.20" x2="368.70" y2="226.20"/>
<line x1="370.90" y1="219.60" x2="380.50" y2="219.60"/>
<line x1="383.10" y1="224.30" x2="392.70" y2="224.30"/>
<line x1="403.00" y1="179.20" x2="412.60" y2="179.20"/>
<line x1="415.20" y1="186.30" x2="424.80" y2="186.30"/>
<line x1="427.00" y1="173.20" x2="436.60" y2="173.20"/>
<line x1="439.20" y1="182.90" x2="448.80" y2="182.90"/>
<line x1="458.90" y1="240.10" x2="468.50" y2="240.10"/>
<line x1="471.10" y1="245.90" x2="480.70" y2="245.90"/>
<line x1="483.00" y1="243.10" x2="492.60" y2="243.10"/>
<line x1="495.10" y1="244.40" x2="504.70" y2="244.40"/>
<line x1="523.50" y1="223.60" x2="533.10" y2="223.60"/>
<line x1="535.50" y1="224.60" x2="545.10" y2="224.60"/>
<line x1="547.50" y1="222.30" x2="557.10" y2="222.30"/>
<line x1="559.70" y1="223.60" x2="569.30" y2="223.60"/>
<line x1="579.40" y1="183.20" x2="589.00" y2="183.20"/>
<line x1="591.50" y1="185.00" x2="601.10" y2="185.00"/>
<line x1="603.50" y1="179.20" x2="613.10" y2="179.20"/>
<line x1="615.60" y1="180.30" x2="625.20" y2="180.30"/>
<line x1="635.40" y1="243.60" x2="645.00" y2="243.60"/>
<line x1="647.50" y1="244.80" x2="657.10" y2="244.80"/>
<line x1="659.50" y1="243.90" x2="669.10" y2="243.90"/>
<line x1="671.60" y1="244.40" x2="681.20" y2="244.40"/>
<line x1="50.50" y1="394.30" x2="69.10" y2="394.30"/>
<line x1="72.90" y1="393.20" x2="91.50" y2="393.20"/>
<line x1="109.00" y1="311.90" x2="127.80" y2="311.90"/>
<line x1="131.20" y1="312.30" x2="149.20" y2="312.30"/>
<line x1="171.70" y1="393.40" x2="186.70" y2="393.40"/>
<line x1="189.90" y1="394.80" x2="204.90" y2="394.80"/>
<line x1="208.10" y1="392.40" x2="223.10" y2="392.40"/>
<line x1="226.40" y1="394.10" x2="241.20" y2="394.10"/>
<line x1="256.60" y1="307.80" x2="271.40" y2="307.80"/>
<line x1="274.90" y1="314.40" x2="289.90" y2="314.40"/>
<line x1="293.30" y1="309.20" x2="307.70" y2="309.20"/>
<line x1="311.40" y1="313.40" x2="326.80" y2="313.40"/>
<line x1="348.70" y1="389.50" x2="363.90" y2="389.50"/>
<line x1="366.90" y1="395.50" x2="381.90" y2="395.50"/>
<line x1="385.20" y1="391.60" x2="399.80" y2="391.60"/>
<line x1="403.80" y1="393.80" x2="418.00" y2="393.80"/>
<line x1="433.50" y1="316.30" x2="449.10" y2="316.30"/>
<line x1="451.80" y1="311.70" x2="467.00" y2="311.70"/>
<line x1="470.30" y1="317.40" x2="485.30" y2="317.40"/>
<line x1="488.00" y1="312.70" x2="503.40" y2="312.70"/>
<line x1="525.30" y1="393.60" x2="540.30" y2="393.60"/>
<line x1="543.30" y1="394.80" x2="558.30" y2="394.80"/>
<line x1="561.50" y1="393.60" x2="576.50" y2="393.60"/>
<line x1="579.90" y1="394.10" x2="594.90" y2="394.10"/>
<line x1="610.20" y1="313.10" x2="625.20" y2="313.10"/>
<line x1="628.10" y1="310.60" x2="643.30" y2="310.60"/>
<line x1="646.50" y1="314.40" x2="661.50" y2="314.40"/>
<line x1="664.60" y1="311.30" x2="679.80" y2="311.30"/>
</g>
<g stroke="#0d0d0d" stroke-width="0.5" fill="none">
<path d="M57.60 103.50H63.00M57.60 105.30H63.00M60.30 103.50V105.30"/>
<path d="M79.50 99.40H84.90M79.50 101.20H84.90M82.20 99.40V101.20"/>
<path d="M115.90 69.30H121.30M115.90 71.10H121.30M118.60 69.30V71.10"/>
<path d="M137.90 60.60H143.30M137.90 62.40H143.30M140.60 60.60V62.40"/>
<path d="M176.20 105.25H181.60M176.20 107.95H181.60M178.90 105.25V107.95"/>
<path d="M194.50 101.05H199.90M194.50 103.75H199.90M197.20 101.05V103.75"/>
<path d="M212.64 98.95H217.96M212.64 101.65H217.96M215.30 98.95V101.65"/>
<path d="M230.90 98.95H236.30M230.90 101.65H236.30M233.60 98.95V101.65"/>
<path d="M261.20 69.05H266.60M261.20 71.75H266.60M263.90 69.05V71.75"/>
<path d="M279.30 68.25H284.70M279.30 70.95H284.70M282.00 68.25V70.95"/>
<path d="M297.60 60.15H303.00M297.60 62.85H303.00M300.30 60.15V62.85"/>
<path d="M316.00 60.55H321.40M316.00 63.25H321.40M318.70 60.55V63.25"/>
<path d="M352.22 106.75H357.18M352.22 108.05H357.18M354.70 106.75V108.05"/>
<path d="M369.02 102.75H373.98M369.02 104.05H373.98M371.50 102.75V104.05"/>
<path d="M386.02 103.75H390.98M386.02 105.05H390.98M388.50 103.75V105.05"/>
<path d="M402.62 100.25H407.58M402.62 101.55H407.58M405.10 100.25V101.55"/>
<path d="M528.54 101.35H533.66M528.54 102.65H533.66M531.10 101.35V102.65"/>
<path d="M545.42 105.65H550.38M545.42 106.95H550.38M547.90 105.65V106.95"/>
<path d="M562.48 98.75H567.52M562.48 100.05H567.52M565.00 98.75V100.05"/>
<path d="M579.22 101.05H584.18M579.22 102.35H584.18M581.70 101.05V102.35"/>
<path d="M52.94 223.40H57.26M52.94 225.20H57.26M55.10 223.40V225.20"/>
<path d="M67.34 222.15H71.66M67.34 223.45H71.66M69.50 222.15V223.45"/>
<path d="M90.24 183.60H94.56M90.24 185.40H94.56M92.40 183.60V185.40"/>
<path d="M105.14 179.65H109.46M105.14 180.95H109.46M107.30 179.65V180.95"/>
<path d="M129.00 243.50H133.40M129.00 245.30H133.40M131.20 243.50V245.30"/>
<path d="M143.40 243.75H147.80M143.40 245.05H147.80M145.60 243.75V245.05"/>
<path d="M172.87 224.85H176.33M172.87 227.55H176.33M174.60 224.85V227.55"/>
<path d="M184.87 222.45H188.33M184.87 225.15H188.33M186.60 222.45V225.15"/>
<path d="M197.07 222.45H200.53M197.07 225.15H200.53M198.80 222.45V225.15"/>
<path d="M209.07 221.45H212.53M209.07 224.15H212.53M210.80 221.45V224.15"/>
<path d="M229.07 185.45H232.53M229.07 188.15H232.53M230.80 185.45V188.15"/>
<path d="M240.97 181.55H244.43M240.97 184.25H244.43M242.70 181.55V184.25"/>
<path d="M253.17 180.55H256.63M253.17 183.25H256.63M254.90 180.55V183.25"/>
<path d="M265.07 177.65H268.53M265.07 180.35H268.53M266.80 177.65V180.35"/>
<path d="M285.07 244.75H288.53M285.07 247.45H288.53M286.80 244.75V247.45"/>
<path d="M296.87 242.45H300.33M296.87 245.15H300.33M298.60 242.45V245.15"/>
<path d="M308.97 242.75H312.43M308.97 245.45H312.43M310.70 242.75V245.45"/>
<path d="M321.07 243.05H324.53M321.07 245.75H324.53M322.80 243.05V245.75"/>
<path d="M350.17 219.55H353.63M350.17 220.85H353.63M351.90 219.55V220.85"/>
<path d="M362.17 225.55H365.63M362.17 226.85H365.63M363.90 225.55V226.85"/>
<path d="M373.97 218.95H377.43M373.97 220.25H377.43M375.70 218.95V220.25"/>
<path d="M386.17 223.65H389.63M386.17 224.95H389.63M387.90 223.65V224.95"/>
<path d="M406.07 178.55H409.53M406.07 179.85H409.53M407.80 178.55V179.85"/>
<path d="M418.27 185.65H421.73M418.27 186.95H421.73M420.00 185.65V186.95"/>
<path d="M430.07 172.55H433.53M430.07 173.85H433.53M431.80 172.55V173.85"/>
<path d="M442.27 182.25H445.73M442.27 183.55H445.73M444.00 182.25V183.55"/>
<path d="M461.97 239.45H465.43M461.97 240.75H465.43M463.70 239.45V240.75"/>
<path d="M474.17 245.25H477.63M474.17 246.55H477.63M475.90 245.25V246.55"/>
<path d="M486.07 242.45H489.53M486.07 243.75H489.53M487.80 242.45V243.75"/>
<path d="M498.17 243.75H501.63M498.17 245.05H501.63M499.90 243.75V245.05"/>
<path d="M526.57 222.95H530.03M526.57 224.25H530.03M528.30 222.95V224.25"/>
<path d="M538.57 223.95H542.03M538.57 225.25H542.03M540.30 223.95V225.25"/>
<path d="M550.57 221.65H554.03M550.57 222.95H554.03M552.30 221.65V222.95"/>
<path d="M562.77 222.95H566.23M562.77 224.25H566.23M564.50 222.95V224.25"/>
<path d="M582.47 182.55H585.93M582.47 183.85H585.93M584.20 182.55V183.85"/>
<path d="M594.57 184.35H598.03M594.57 185.65H598.03M596.30 184.35V185.65"/>
<path d="M606.57 178.55H610.03M606.57 179.85H610.03M608.30 178.55V179.85"/>
<path d="M618.67 179.65H622.13M618.67 180.95H622.13M620.40 179.65V180.95"/>
<path d="M638.47 242.95H641.93M638.47 244.25H641.93M640.20 242.95V244.25"/>
<path d="M650.57 244.15H654.03M650.57 245.45H654.03M652.30 244.15V245.45"/>
<path d="M662.57 243.25H666.03M662.57 244.55H666.03M664.30 243.25V244.55"/>
<path d="M674.67 243.75H678.13M674.67 245.05H678.13M676.40 243.75V245.05"/>
<path d="M57.10 393.40H62.50M57.10 395.20H62.50M59.80 393.40V395.20"/>
<path d="M79.50 392.30H84.90M79.50 394.10H84.90M82.20 392.30V394.10"/>
<path d="M115.70 311.00H121.10M115.70 312.80H121.10M118.40 311.00V312.80"/>
<path d="M137.50 311.40H142.90M137.50 313.20H142.90M140.20 311.40V313.20"/>
<path d="M176.50 392.05H181.90M176.50 394.75H181.90M179.20 392.05V394.75"/>
<path d="M194.70 393.45H200.10M194.70 396.15H200.10M197.40 393.45V396.15"/>
<path d="M212.90 391.05H218.30M212.90 393.75H218.30M215.60 391.05V393.75"/>
<path d="M231.14 392.75H236.46M231.14 395.45H236.46M233.80 392.75V395.45"/>
<path d="M261.34 306.45H266.66M261.34 309.15H266.66M264.00 306.45V309.15"/>
<path d="M279.70 313.05H285.10M279.70 315.75H285.10M282.40 313.05V315.75"/>
<path d="M297.91 307.85H303.09M297.91 310.55H303.09M300.50 307.85V310.55"/>
<path d="M316.40 312.05H321.80M316.40 314.75H321.80M319.10 312.05V314.75"/>
<path d="M353.60 388.85H359.00M353.60 390.15H359.00M356.30 388.85V390.15"/>
<path d="M371.70 394.85H377.10M371.70 396.15H377.10M374.40 394.85V396.15"/>
<path d="M389.87 390.95H395.13M389.87 392.25H395.13M392.50 390.95V392.25"/>
<path d="M408.34 393.15H413.46M408.34 394.45H413.46M410.90 393.15V394.45"/>
<path d="M438.60 315.65H444.00M438.60 316.95H444.00M441.30 315.65V316.95"/>
<path d="M456.70 311.05H462.10M456.70 312.35H462.10M459.40 311.05V312.35"/>
<path d="M475.10 316.75H480.50M475.10 318.05H480.50M477.80 316.75V318.05"/>
<path d="M493.00 312.05H498.40M493.00 313.35H498.40M495.70 312.05V313.35"/>
<path d="M530.10 392.95H535.50M530.10 394.25H535.50M532.80 392.95V394.25"/>
<path d="M548.10 394.15H553.50M548.10 395.45H553.50M550.80 394.15V395.45"/>
<path d="M566.30 392.95H571.70M566.30 394.25H571.70M569.00 392.95V394.25"/>
<path d="M584.70 393.45H590.10M584.70 394.75H590.10M587.40 393.45V394.75"/>
<path d="M615.00 312.45H620.40M615.00 313.75H620.40M617.70 312.45V313.75"/>
<path d="M633.00 309.95H638.40M633.00 311.25H638.40M635.70 309.95V311.25"/>
<path d="M651.30 313.75H656.70M651.30 315.05H656.70M654.00 313.75V315.05"/>
<path d="M669.50 310.65H674.90M669.50 311.95H674.90M672.20 310.65V311.95"/>
</g>
<g stroke="#242424" stroke-width="1.4" fill="none" stroke-linecap="butt">
<line x1="45.9" y1="21.900000000000002" x2="45.9" y2="132.29999999999998"/>
<line x1="41.0" y1="131.6" x2="155" y2="131.6"/>
<line x1="41.0" y1="22.6" x2="45.9" y2="22.6"/>
<line x1="41.0" y1="58.9" x2="45.9" y2="58.9"/>
<line x1="41.0" y1="95.3" x2="45.9" y2="95.3"/>
<line x1="71.3" y1="131.6" x2="71.3" y2="136.2"/>
<line x1="129.7" y1="131.6" x2="129.7" y2="136.2"/>
<line x1="166.8" y1="21.900000000000002" x2="166.8" y2="132.29999999999998"/>
<line x1="161.9" y1="131.6" x2="330.8" y2="131.6"/>
<line x1="161.9" y1="22.6" x2="166.8" y2="22.6"/>
<line x1="161.9" y1="58.9" x2="166.8" y2="58.9"/>
<line x1="161.9" y1="95.3" x2="166.8" y2="95.3"/>
<line x1="206.0" y1="131.6" x2="206.0" y2="136.2"/>
<line x1="291.5" y1="131.6" x2="291.5" y2="136.2"/>
<line x1="343.7" y1="21.900000000000002" x2="343.7" y2="132.29999999999998"/>
<line x1="338.8" y1="131.6" x2="416.6" y2="131.6"/>
<line x1="338.8" y1="22.6" x2="343.7" y2="22.6"/>
<line x1="338.8" y1="58.9" x2="343.7" y2="58.9"/>
<line x1="338.8" y1="95.3" x2="343.7" y2="95.3"/>
<line x1="380.0" y1="131.6" x2="380.0" y2="136.2"/>
<line x1="520.2" y1="21.900000000000002" x2="520.2" y2="132.29999999999998"/>
<line x1="515.3000000000001" y1="131.6" x2="592.8" y2="131.6"/>
<line x1="515.3000000000001" y1="22.6" x2="520.2" y2="22.6"/>
<line x1="515.3000000000001" y1="58.9" x2="520.2" y2="58.9"/>
<line x1="515.3000000000001" y1="95.3" x2="520.2" y2="95.3"/>
<line x1="556.4" y1="131.6" x2="556.4" y2="136.2"/>
<line x1="45.9" y1="158.5" x2="45.9" y2="268.9"/>
<line x1="41.0" y1="268.2" x2="154.6" y2="268.2"/>
<line x1="41.0" y1="159.2" x2="45.9" y2="159.2"/>
<line x1="41.0" y1="195.5" x2="45.9" y2="195.5"/>
<line x1="41.0" y1="231.8" x2="45.9" y2="231.8"/>
<line x1="62.1" y1="268.2" x2="62.1" y2="272.8"/>
<line x1="100.4" y1="268.2" x2="100.4" y2="272.8"/>
<line x1="138.8" y1="268.2" x2="138.8" y2="272.8"/>
<line x1="166.8" y1="158.5" x2="166.8" y2="268.9"/>
<line x1="161.9" y1="268.2" x2="330.8" y2="268.2"/>
<line x1="161.9" y1="159.2" x2="166.8" y2="159.2"/>
<line x1="161.9" y1="195.5" x2="166.8" y2="195.5"/>
<line x1="161.9" y1="231.8" x2="166.8" y2="231.8"/>
<line x1="192.5" y1="268.2" x2="192.5" y2="272.8"/>
<line x1="248.8" y1="268.2" x2="248.8" y2="272.8"/>
<line x1="305.0" y1="268.2" x2="305.0" y2="272.8"/>
<line x1="343.7" y1="158.5" x2="343.7" y2="268.9"/>
<line x1="338.8" y1="268.2" x2="507.3" y2="268.2"/>
<line x1="338.8" y1="159.2" x2="343.7" y2="159.2"/>
<line x1="338.8" y1="195.5" x2="343.7" y2="195.5"/>
<line x1="338.8" y1="231.8" x2="343.7" y2="231.8"/>
<line x1="369.8" y1="268.2" x2="369.8" y2="272.8"/>
<line x1="425.6" y1="268.2" x2="425.6" y2="272.8"/>
<line x1="481.6" y1="268.2" x2="481.6" y2="272.8"/>
<line x1="520.2" y1="158.5" x2="520.2" y2="268.9"/>
<line x1="515.3000000000001" y1="268.2" x2="684.2" y2="268.2"/>
<line x1="515.3000000000001" y1="159.2" x2="520.2" y2="159.2"/>
<line x1="515.3000000000001" y1="195.5" x2="520.2" y2="195.5"/>
<line x1="515.3000000000001" y1="231.8" x2="520.2" y2="231.8"/>
<line x1="545.8" y1="268.2" x2="545.8" y2="272.8"/>
<line x1="602.1" y1="268.2" x2="602.1" y2="272.8"/>
<line x1="658.2" y1="268.2" x2="658.2" y2="272.8"/>
<line x1="45.9" y1="294.8" x2="45.9" y2="405.59999999999997"/>
<line x1="41.0" y1="404.9" x2="154.6" y2="404.9"/>
<line x1="41.0" y1="295.5" x2="45.9" y2="295.5"/>
<line x1="41.0" y1="332.0" x2="45.9" y2="332.0"/>
<line x1="41.0" y1="368.5" x2="45.9" y2="368.5"/>
<line x1="71.3" y1="404.9" x2="71.3" y2="409.5"/>
<line x1="129.5" y1="404.9" x2="129.5" y2="409.5"/>
<line x1="166.8" y1="294.8" x2="166.8" y2="405.59999999999997"/>
<line x1="161.9" y1="404.9" x2="330.8" y2="404.9"/>
<line x1="161.9" y1="295.5" x2="166.8" y2="295.5"/>
<line x1="161.9" y1="332.0" x2="166.8" y2="332.0"/>
<line x1="161.9" y1="368.5" x2="166.8" y2="368.5"/>
<line x1="206.1" y1="404.9" x2="206.1" y2="409.5"/>
<line x1="291.5" y1="404.9" x2="291.5" y2="409.5"/>
<line x1="343.7" y1="294.8" x2="343.7" y2="405.59999999999997"/>
<line x1="338.8" y1="404.9" x2="507.3" y2="404.9"/>
<line x1="338.8" y1="295.5" x2="343.7" y2="295.5"/>
<line x1="338.8" y1="332.0" x2="343.7" y2="332.0"/>
<line x1="338.8" y1="368.5" x2="343.7" y2="368.5"/>
<line x1="383.7" y1="404.9" x2="383.7" y2="409.5"/>
<line x1="468.7" y1="404.9" x2="468.7" y2="409.5"/>
<line x1="520.2" y1="294.8" x2="520.2" y2="405.59999999999997"/>
<line x1="515.3000000000001" y1="404.9" x2="684.2" y2="404.9"/>
<line x1="515.3000000000001" y1="295.5" x2="520.2" y2="295.5"/>
<line x1="515.3000000000001" y1="332.0" x2="520.2" y2="332.0"/>
<line x1="515.3000000000001" y1="368.5" x2="520.2" y2="368.5"/>
<line x1="560.0" y1="404.9" x2="560.0" y2="409.5"/>
<line x1="645.1" y1="404.9" x2="645.1" y2="409.5"/>
</g>
<g fill="#111" stroke="#111" stroke-width="0.22">
<text x="39.6" y="25.5" font-size="8.3" text-anchor="end">0.60</text>
<text x="39.6" y="61.8" font-size="8.3" text-anchor="end">0.40</text>
<text x="39.6" y="98.2" font-size="8.3" text-anchor="end">0.20</text>
<text x="39.6" y="134.5" font-size="8.3" text-anchor="end">0.00</text>
<text transform="translate(11.5 77.1) rotate(-90)" font-size="11.8" text-anchor="middle">MTC</text>
<text x="71.3" y="146.7" font-size="10.55" text-anchor="middle">average</text>
<text x="129.7" y="146.7" font-size="10.55" text-anchor="middle">maximum</text>
<text x="206.0" y="146.7" font-size="10.55" text-anchor="middle">average</text>
<text x="291.5" y="146.7" font-size="10.55" text-anchor="middle">maximum</text>
<text x="380.0" y="146.7" font-size="10.55" text-anchor="middle">average</text>
<text x="556.4" y="146.7" font-size="10.55" text-anchor="middle">average</text>
<text x="39.6" y="162.1" font-size="8.3" text-anchor="end">0.0016</text>
<text x="39.6" y="198.4" font-size="8.3" text-anchor="end">0.0011</text>
<text x="39.6" y="234.7" font-size="8.3" text-anchor="end">0.0006</text>
<text x="39.6" y="271.1" font-size="8.3" text-anchor="end">0.0001</text>
<text transform="translate(11.7 213.7) rotate(-90)" font-size="11.8" text-anchor="middle">DTI</text>
<text x="62.1" y="284.6" font-size="10.55" text-anchor="middle">MD</text>
<text x="100.4" y="284.6" font-size="10.55" text-anchor="middle">AD</text>
<text x="138.8" y="284.6" font-size="10.55" text-anchor="middle">RD</text>
<text x="192.5" y="284.6" font-size="10.55" text-anchor="middle">MD</text>
<text x="248.8" y="284.6" font-size="10.55" text-anchor="middle">AD</text>
<text x="305.0" y="284.6" font-size="10.55" text-anchor="middle">RD</text>
<text x="369.8" y="284.6" font-size="10.55" text-anchor="middle">MD</text>
<text x="425.6" y="284.6" font-size="10.55" text-anchor="middle">AD</text>
<text x="481.6" y="284.6" font-size="10.55" text-anchor="middle">RD</text>
<text x="545.8" y="284.6" font-size="10.55" text-anchor="middle">MD</text>
<text x="602.1" y="284.6" font-size="10.55" text-anchor="middle">AD</text>
<text x="658.2" y="284.6" font-size="10.55" text-anchor="middle">RD</text>
<text x="39.6" y="298.4" font-size="8.3" text-anchor="end">0.75</text>
<text x="39.6" y="334.9" font-size="8.3" text-anchor="end">0.50</text>
<text x="39.6" y="371.4" font-size="8.3" text-anchor="end">0.25</text>
<text x="39.6" y="407.8" font-size="8.3" text-anchor="end">0.00</text>
<text transform="translate(10.2 350.2) rotate(-90)" font-size="11.8" text-anchor="middle">NODDI</text>
<text x="71.3" y="420.2" font-size="10.55" text-anchor="middle">free</text>
<text x="129.5" y="420.2" font-size="10.55" text-anchor="middle">restricted</text>
<text x="206.1" y="420.2" font-size="10.55" text-anchor="middle">free</text>
<text x="291.5" y="420.2" font-size="10.55" text-anchor="middle">restricted</text>
<text x="383.7" y="420.2" font-size="10.55" text-anchor="middle">free</text>
<text x="468.7" y="420.2" font-size="10.55" text-anchor="middle">restricted</text>
<text x="560.0" y="420.2" font-size="10.55" text-anchor="middle">free</text>
<text x="645.1" y="420.2" font-size="10.55" text-anchor="middle">restricted</text>
<text x="100.9" y="9.9" font-size="12.15" text-anchor="middle">Metric</text>
<text x="250.9" y="9.9" font-size="12.15" text-anchor="middle">Metric x Sex</text>
<text x="424.7" y="9.9" font-size="12.15" text-anchor="middle">Metric x Subdivision</text>
<text x="603.9" y="9.9" font-size="12.15" text-anchor="middle">Metric x Hemisphere</text>
<text x="62.0" y="26.4" font-size="9.05">younger</text>
<text x="62.0" y="36.9" font-size="9.05">older</text>
<text x="181.4" y="26.6" font-size="9.05">younger, male</text>
<text x="181.4" y="37.6" font-size="9.05">younger, female</text>
<text x="181.4" y="48.5" font-size="9.05">older, male</text>
<text x="181.4" y="60.3" font-size="9.05">older, female</text>
<text x="358.3" y="26.6" font-size="9.05">younger, rostral</text>
<text x="358.3" y="37.6" font-size="9.05">younger, caudal</text>
<text x="358.3" y="48.5" font-size="9.05">older, rostral</text>
<text x="358.3" y="60.3" font-size="9.05">older, caudal</text>
<text x="535.2" y="26.6" font-size="9.05">younger, left</text>
<text x="535.2" y="37.6" font-size="9.05">younger, right</text>
<text x="535.2" y="48.5" font-size="9.05">older, left</text>
<text x="535.2" y="60.3" font-size="9.05">older, right</text>
</g>
<g fill="none" stroke="#b0b0b0" stroke-width="0.85"><circle cx="54.70" cy="21.90" r="1.78"/></g>
<g fill="none" stroke="#484848" stroke-width="0.85"><circle cx="54.70" cy="34.70" r="1.53"/></g>
<g fill="none" stroke="#b0b0b0" stroke-width="0.85"><rect x="173.22" y="20.22" width="3.36" height="3.36"/></g>
<g fill="none" stroke="#b0b0b0" stroke-width="0.85"><circle cx="174.90" cy="33.90" r="1.78"/></g>
<g fill="none" stroke="#484848" stroke-width="0.85"><rect x="173.46" y="44.46" width="2.88" height="2.88"/></g>
<g fill="none" stroke="#484848" stroke-width="0.85"><circle cx="174.90" cy="58.00" r="1.53"/></g>
<g fill="none" stroke="#b0b0b0" stroke-width="0.85"><rect x="350.32" y="20.22" width="3.36" height="3.36"/></g>
<g fill="none" stroke="#b0b0b0" stroke-width="0.85"><circle cx="352.00" cy="33.90" r="1.78"/></g>
<g fill="none" stroke="#484848" stroke-width="0.85"><rect x="350.56" y="44.46" width="2.88" height="2.88"/></g>
<g fill="none" stroke="#484848" stroke-width="0.85"><circle cx="352.00" cy="58.40" r="1.53"/></g>
<g fill="none" stroke="#b0b0b0" stroke-width="0.85"><rect x="527.22" y="20.22" width="3.36" height="3.36"/></g>
<g fill="none" stroke="#b0b0b0" stroke-width="0.85"><circle cx="528.90" cy="33.90" r="1.78"/></g>
<g fill="none" stroke="#484848" stroke-width="0.85"><rect x="527.46" y="44.46" width="2.88" height="2.88"/></g>
<g fill="none" stroke="#484848" stroke-width="0.85"><circle cx="528.90" cy="58.40" r="1.53"/></g>
</svg>
</body></html>
